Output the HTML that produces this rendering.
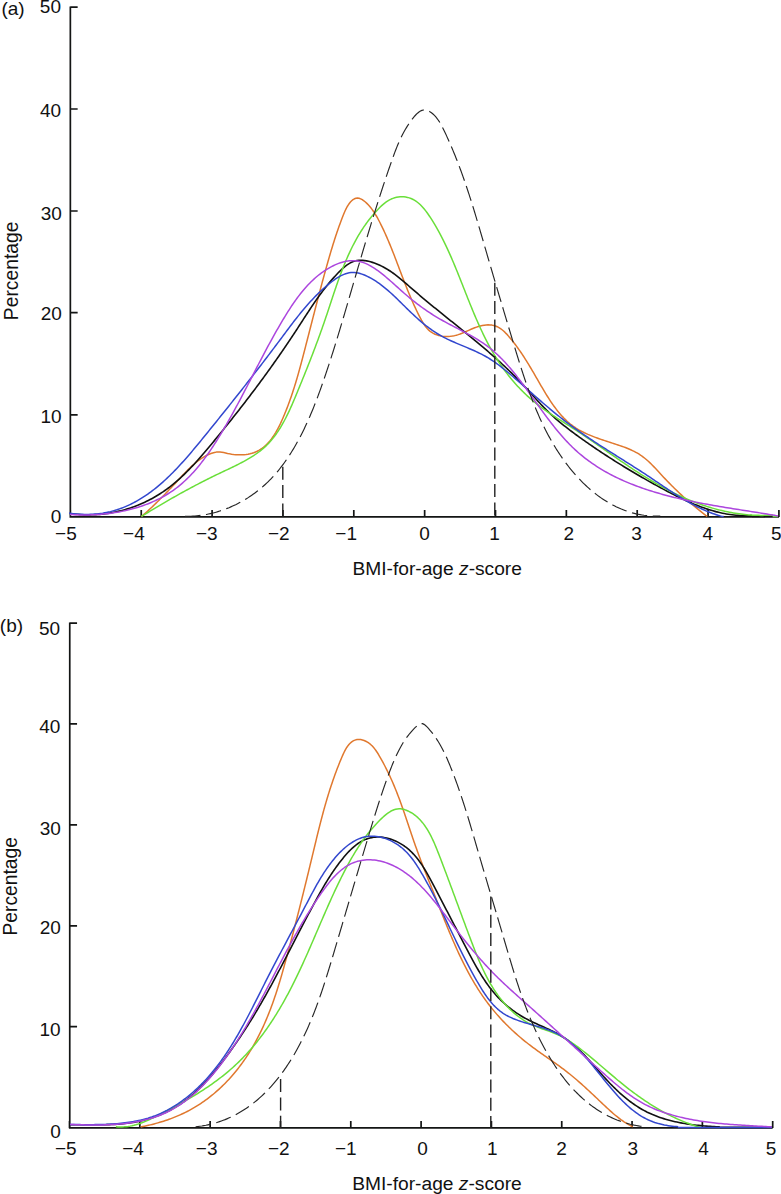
<!DOCTYPE html>
<html><head><meta charset="utf-8"><style>
html,body{margin:0;padding:0;background:#fff;width:781px;height:1194px;overflow:hidden}
svg{display:block}
text{font-family:"Liberation Sans",sans-serif;font-size:19px;fill:#111}
</style></head><body>
<svg width="781" height="1194" viewBox="0 0 781 1194">
<text x="1.4" y="15.2">(a)</text>
<g><text x="55.1" y="540">−5</text><text x="123.1" y="540">−4</text><text x="196.0" y="540">−3</text><text x="267.9" y="540">−2</text><text x="335.3" y="540">−1</text><text x="419.35" y="540">0</text><text x="489.3" y="540">1</text><text x="563.5" y="540">2</text><text x="631.25" y="540">3</text><text x="702.6" y="540">4</text><text x="770.95" y="540">5</text></g>
<g text-anchor="end"><text x="61.0" y="13.2">50</text><text x="61.2" y="116.5">40</text><text x="61.9" y="219.8">30</text><text x="61.9" y="320.2">20</text><text x="61.7" y="422.8">10</text><text x="61.4" y="523.3">0</text></g>
<text transform="translate(17.7,320.2) rotate(-90)" style="font-size:19.3px">Percentage</text>
<text x="352.4" y="575.4" style="font-size:19.2px">BMI-for-age <tspan font-style="italic">z</tspan>-score</text>
<path d="M70.35,6.45V516.9H779.0M70.35,7.2h7.3M70.35,109.0h7.3M70.35,211.0h7.3M70.35,312.7h7.3M70.35,414.8h7.3M70.40,516.9v-7.0M141.25,516.9v-7.0M212.10,516.9v-7.0M282.95,516.9v-7.0M353.80,516.9v-7.0M424.65,516.9v-7.0M495.50,516.9v-7.0M566.35,516.9v-7.0M637.20,516.9v-7.0M708.05,516.9v-7.0M778.90,516.9v-7.0" fill="none" stroke="#131514" stroke-width="1.7"/>
<path d="M141.52,516.40 L143.04,515.15 L144.54,513.84 L146.03,512.52 L147.50,511.20 L148.95,509.87 L150.39,508.54 L151.82,507.20 L153.24,505.86 L154.64,504.51 L156.03,503.16 L157.42,501.80 L158.79,500.44 L160.16,499.07 L161.52,497.70 L162.88,496.32 L164.23,494.93 L165.57,493.54 L166.92,492.14 L168.26,490.74 L169.59,489.33 L170.93,487.91 L172.27,486.49 L173.61,485.06 L174.95,483.63 L176.29,482.19 L177.64,480.74 L178.99,479.28 L180.35,477.82 L181.71,476.35 L183.09,474.89 L184.47,473.42 L185.87,471.97 L187.27,470.53 L188.69,469.11 L190.13,467.71 L191.58,466.34 L193.06,465.00 L194.55,463.69 L196.06,462.42 L197.60,461.20 L199.16,460.02 L200.74,458.90 L202.36,457.83 L204.00,456.83 L205.67,455.89 L207.38,455.02 L209.11,454.22 L210.88,453.52 L212.67,452.92 L214.49,452.44 L216.32,452.12 L218.17,451.96 L220.02,451.99 L221.87,452.21 L223.74,452.57 L225.64,453.01 L227.58,453.46 L229.56,453.86 L231.58,454.20 L233.63,454.47 L235.71,454.67 L237.79,454.80 L239.88,454.85 L241.96,454.82 L244.02,454.70 L246.06,454.49 L248.05,454.20 L250.00,453.80 L251.90,453.31 L253.72,452.72 L255.49,452.03 L257.19,451.25 L258.84,450.37 L260.42,449.41 L261.96,448.37 L263.43,447.25 L264.86,446.06 L266.23,444.79 L267.56,443.46 L268.84,442.07 L270.07,440.62 L271.27,439.11 L272.42,437.55 L273.53,435.95 L274.60,434.30 L275.64,432.61 L276.64,430.89 L277.62,429.14 L278.56,427.36 L279.47,425.56 L280.36,423.73 L281.22,421.89 L282.06,420.04 L282.88,418.18 L283.67,416.32 L284.46,414.46 L285.22,412.59 L285.97,410.73 L286.70,408.87 L287.42,407.02 L288.12,405.16 L288.81,403.30 L289.49,401.45 L290.15,399.60 L290.81,397.74 L291.44,395.89 L292.07,394.04 L292.69,392.18 L293.29,390.33 L293.89,388.48 L294.47,386.62 L295.05,384.77 L295.62,382.91 L296.18,381.06 L296.73,379.20 L297.27,377.34 L297.81,375.48 L298.34,373.62 L298.86,371.76 L299.38,369.90 L299.89,368.03 L300.40,366.16 L300.91,364.29 L301.41,362.42 L301.91,360.54 L302.41,358.66 L302.90,356.78 L303.39,354.90 L303.88,353.01 L304.37,351.12 L304.86,349.23 L305.35,347.33 L305.84,345.43 L306.33,343.53 L306.82,341.62 L307.31,339.72 L307.80,337.80 L308.30,335.89 L308.79,333.97 L309.28,332.06 L309.77,330.14 L310.26,328.22 L310.76,326.30 L311.25,324.37 L311.74,322.45 L312.24,320.52 L312.73,318.60 L313.23,316.67 L313.72,314.75 L314.22,312.82 L314.72,310.90 L315.21,308.97 L315.71,307.05 L316.21,305.12 L316.71,303.20 L317.21,301.28 L317.71,299.36 L318.22,297.44 L318.72,295.53 L319.23,293.61 L319.73,291.70 L320.24,289.79 L320.75,287.88 L321.25,285.98 L321.76,284.08 L322.27,282.18 L322.79,280.29 L323.30,278.40 L323.81,276.51 L324.33,274.63 L324.85,272.75 L325.37,270.88 L325.89,269.01 L326.41,267.14 L326.93,265.28 L327.45,263.43 L327.98,261.58 L328.51,259.73 L329.04,257.90 L329.57,256.06 L330.10,254.23 L330.64,252.40 L331.18,250.58 L331.73,248.75 L332.29,246.92 L332.85,245.09 L333.42,243.25 L334.00,241.41 L334.59,239.57 L335.19,237.71 L335.80,235.85 L336.43,233.97 L337.07,232.09 L337.72,230.19 L338.38,228.28 L339.06,226.35 L339.76,224.40 L340.48,222.44 L341.21,220.46 L341.96,218.46 L342.74,216.44 L343.54,214.43 L344.37,212.43 L345.24,210.47 L346.16,208.58 L347.13,206.76 L348.16,205.06 L349.26,203.47 L350.43,202.03 L351.68,200.76 L353.01,199.68 L354.43,198.81 L355.93,198.24 L357.48,198.06 L359.07,198.28 L360.67,198.84 L362.27,199.70 L363.84,200.78 L365.37,202.02 L366.84,203.37 L368.23,204.79 L369.57,206.26 L370.83,207.78 L372.04,209.35 L373.20,210.96 L374.30,212.61 L375.36,214.29 L376.38,216.00 L377.37,217.74 L378.32,219.49 L379.25,221.26 L380.16,223.03 L381.05,224.81 L381.93,226.60 L382.79,228.39 L383.63,230.19 L384.46,231.98 L385.28,233.79 L386.09,235.59 L386.88,237.40 L387.66,239.21 L388.44,241.02 L389.20,242.84 L389.95,244.66 L390.70,246.48 L391.43,248.30 L392.16,250.12 L392.88,251.95 L393.60,253.77 L394.31,255.60 L395.02,257.43 L395.72,259.25 L396.42,261.08 L397.11,262.91 L397.80,264.74 L398.50,266.57 L399.19,268.40 L399.88,270.22 L400.57,272.05 L401.26,273.87 L401.95,275.70 L402.65,277.52 L403.34,279.34 L404.05,281.15 L404.75,282.97 L405.46,284.78 L406.18,286.59 L406.90,288.40 L407.63,290.21 L408.37,292.01 L409.11,293.81 L409.87,295.60 L410.63,297.40 L411.40,299.20 L412.19,300.99 L412.98,302.78 L413.79,304.58 L414.61,306.37 L415.45,308.17 L416.30,309.97 L417.16,311.76 L418.05,313.56 L418.94,315.37 L419.86,317.17 L420.80,318.96 L421.77,320.74 L422.79,322.47 L423.85,324.16 L424.97,325.78 L426.15,327.32 L427.41,328.78 L428.75,330.12 L430.18,331.34 L431.71,332.44 L433.34,333.39 L435.05,334.21 L436.83,334.90 L438.68,335.45 L440.58,335.89 L442.52,336.20 L444.49,336.39 L446.48,336.46 L448.49,336.42 L450.49,336.26 L452.48,336.00 L454.45,335.64 L456.38,335.17 L458.28,334.61 L460.15,333.97 L462.00,333.26 L463.82,332.51 L465.64,331.72 L467.44,330.91 L469.25,330.10 L471.05,329.29 L472.87,328.51 L474.70,327.78 L476.55,327.09 L478.43,326.47 L480.34,325.94 L482.27,325.51 L484.21,325.17 L486.16,324.96 L488.09,324.87 L490.00,324.92 L491.88,325.12 L493.72,325.48 L495.51,326.00 L497.24,326.71 L498.91,327.59 L500.52,328.62 L502.08,329.77 L503.59,331.05 L505.05,332.42 L506.47,333.86 L507.85,335.37 L509.19,336.91 L510.50,338.47 L511.78,340.05 L513.04,341.62 L514.27,343.20 L515.47,344.79 L516.66,346.38 L517.81,347.98 L518.95,349.58 L520.07,351.18 L521.17,352.79 L522.25,354.41 L523.32,356.03 L524.37,357.65 L525.41,359.28 L526.44,360.92 L527.46,362.55 L528.46,364.20 L529.46,365.85 L530.45,367.50 L531.43,369.16 L532.41,370.82 L533.39,372.49 L534.36,374.16 L535.33,375.84 L536.31,377.53 L537.28,379.21 L538.26,380.91 L539.24,382.60 L540.22,384.31 L541.21,386.01 L542.21,387.72 L543.22,389.43 L544.24,391.15 L545.27,392.86 L546.31,394.56 L547.36,396.26 L548.43,397.95 L549.51,399.63 L550.61,401.30 L551.73,402.96 L552.86,404.59 L554.01,406.21 L555.19,407.81 L556.38,409.39 L557.60,410.95 L558.84,412.47 L560.11,413.97 L561.40,415.44 L562.72,416.88 L564.06,418.28 L565.44,419.65 L566.84,420.98 L568.28,422.27 L569.75,423.52 L571.25,424.72 L572.78,425.88 L574.36,426.99 L575.96,428.06 L577.60,429.08 L579.26,430.06 L580.96,431.00 L582.68,431.90 L584.43,432.77 L586.20,433.60 L587.99,434.41 L589.80,435.18 L591.63,435.93 L593.47,436.66 L595.32,437.36 L597.19,438.05 L599.07,438.71 L600.96,439.37 L602.85,440.01 L604.74,440.64 L606.64,441.26 L608.54,441.88 L610.44,442.49 L612.33,443.11 L614.22,443.72 L616.10,444.34 L617.97,444.96 L619.84,445.59 L621.69,446.23 L623.52,446.89 L625.35,447.56 L627.15,448.27 L628.93,449.00 L630.70,449.76 L632.44,450.56 L634.16,451.40 L635.85,452.29 L637.51,453.22 L639.15,454.21 L640.75,455.26 L642.32,456.36 L643.86,457.53 L645.38,458.74 L646.87,460.01 L648.33,461.31 L649.77,462.66 L651.20,464.04 L652.61,465.45 L654.00,466.88 L655.38,468.33 L656.76,469.79 L658.12,471.27 L659.48,472.75 L660.84,474.22 L662.20,475.70 L663.55,477.16 L664.92,478.61 L666.28,480.05 L667.65,481.48 L669.03,482.89 L670.41,484.30 L671.79,485.69 L673.18,487.07 L674.57,488.44 L675.97,489.80 L677.38,491.15 L678.79,492.49 L680.21,493.83 L681.64,495.15 L683.08,496.46 L684.52,497.77 L685.97,499.07 L687.43,500.35 L688.89,501.64 L690.37,502.91 L691.86,504.18 L693.35,505.44 L694.85,506.69 L696.37,507.94 L697.89,509.18 L699.43,510.42 L700.98,511.65 L702.54,512.87 L704.11,514.09 L705.69,515.31 L707.28,516.40" fill="none" stroke="#E0782E" stroke-width="1.5" stroke-linejoin="round"/>
<path d="M69.85,513.72 L71.86,513.97 L73.87,514.19 L75.88,514.38 L77.89,514.54 L79.90,514.67 L81.90,514.77 L83.90,514.84 L85.90,514.88 L87.90,514.89 L89.89,514.87 L91.88,514.82 L93.86,514.74 L95.84,514.64 L97.81,514.50 L99.78,514.34 L101.75,514.15 L103.71,513.92 L105.66,513.68 L107.61,513.40 L109.55,513.09 L111.48,512.76 L113.41,512.40 L115.33,512.01 L117.24,511.59 L119.15,511.15 L121.04,510.68 L122.93,510.18 L124.81,509.66 L126.68,509.11 L128.54,508.53 L130.39,507.92 L132.23,507.29 L134.06,506.64 L135.88,505.95 L137.69,505.25 L139.48,504.51 L141.27,503.75 L143.04,502.97 L144.81,502.16 L146.56,501.32 L148.29,500.46 L150.02,499.58 L151.73,498.67 L153.43,497.74 L155.11,496.78 L156.78,495.79 L158.43,494.79 L160.07,493.76 L161.70,492.70 L163.31,491.63 L164.90,490.52 L166.48,489.40 L168.04,488.25 L169.59,487.08 L171.12,485.89 L172.64,484.68 L174.14,483.45 L175.63,482.19 L177.10,480.92 L178.57,479.63 L180.02,478.32 L181.45,477.00 L182.88,475.66 L184.29,474.30 L185.69,472.93 L187.09,471.55 L188.47,470.15 L189.84,468.74 L191.20,467.31 L192.55,465.88 L193.90,464.43 L195.24,462.98 L196.56,461.51 L197.88,460.04 L199.20,458.55 L200.51,457.06 L201.81,455.57 L203.10,454.06 L204.39,452.56 L205.68,451.04 L206.96,449.53 L208.23,448.00 L209.50,446.48 L210.77,444.96 L212.04,443.43 L213.30,441.90 L214.56,440.37 L215.82,438.84 L217.07,437.31 L218.33,435.78 L219.58,434.25 L220.82,432.72 L222.07,431.19 L223.31,429.65 L224.55,428.12 L225.79,426.59 L227.03,425.05 L228.26,423.51 L229.49,421.98 L230.72,420.44 L231.94,418.90 L233.16,417.36 L234.38,415.82 L235.60,414.27 L236.81,412.73 L238.03,411.19 L239.24,409.64 L240.44,408.09 L241.65,406.54 L242.85,404.99 L244.05,403.44 L245.24,401.89 L246.44,400.34 L247.63,398.78 L248.82,397.23 L250.00,395.67 L251.19,394.11 L252.37,392.55 L253.54,390.99 L254.72,389.42 L255.89,387.86 L257.06,386.29 L258.23,384.72 L259.39,383.15 L260.56,381.58 L261.72,380.01 L262.87,378.43 L264.03,376.85 L265.18,375.28 L266.33,373.70 L267.47,372.11 L268.62,370.53 L269.76,368.94 L270.89,367.35 L272.03,365.76 L273.16,364.17 L274.29,362.58 L275.42,360.98 L276.54,359.38 L277.67,357.78 L278.78,356.18 L279.90,354.57 L281.01,352.97 L282.12,351.36 L283.23,349.74 L284.34,348.13 L285.44,346.51 L286.54,344.89 L287.64,343.27 L288.73,341.65 L289.82,340.02 L290.91,338.39 L292.00,336.76 L293.08,335.13 L294.16,333.49 L295.24,331.85 L296.31,330.21 L297.38,328.57 L298.45,326.92 L299.52,325.27 L300.59,323.62 L301.65,321.97 L302.72,320.32 L303.79,318.67 L304.86,317.02 L305.93,315.37 L307.00,313.73 L308.08,312.08 L309.16,310.44 L310.25,308.80 L311.34,307.16 L312.44,305.53 L313.54,303.90 L314.65,302.28 L315.77,300.66 L316.90,299.05 L318.04,297.45 L319.19,295.85 L320.34,294.26 L321.51,292.68 L322.69,291.10 L323.88,289.54 L325.09,287.98 L326.31,286.43 L327.54,284.90 L328.79,283.37 L330.05,281.86 L331.33,280.35 L332.62,278.86 L333.94,277.39 L335.27,275.92 L336.62,274.47 L337.99,273.03 L339.37,271.61 L340.79,270.22 L342.22,268.86 L343.69,267.55 L345.19,266.32 L346.72,265.16 L348.30,264.09 L349.91,263.13 L351.57,262.29 L353.28,261.58 L355.05,261.02 L356.86,260.62 L358.74,260.39 L360.66,260.32 L362.61,260.39 L364.58,260.58 L366.56,260.89 L368.53,261.31 L370.49,261.81 L372.43,262.38 L374.33,263.01 L376.19,263.70 L378.02,264.45 L379.82,265.26 L381.59,266.11 L383.33,267.01 L385.05,267.95 L386.74,268.94 L388.40,269.97 L390.04,271.04 L391.67,272.14 L393.27,273.27 L394.85,274.43 L396.42,275.62 L397.97,276.83 L399.51,278.06 L401.04,279.31 L402.56,280.57 L404.07,281.85 L405.57,283.14 L407.07,284.43 L408.56,285.73 L410.05,287.03 L411.54,288.33 L413.03,289.63 L414.52,290.92 L416.01,292.20 L417.50,293.48 L419.00,294.76 L420.50,296.02 L421.99,297.29 L423.49,298.55 L425.00,299.80 L426.50,301.05 L428.01,302.30 L429.51,303.54 L431.02,304.78 L432.53,306.02 L434.04,307.26 L435.56,308.49 L437.07,309.72 L438.59,310.95 L440.10,312.18 L441.62,313.40 L443.14,314.63 L444.66,315.86 L446.18,317.08 L447.70,318.31 L449.23,319.53 L450.75,320.76 L452.28,321.99 L453.80,323.21 L455.33,324.44 L456.86,325.67 L458.38,326.90 L459.91,328.14 L461.43,329.37 L462.96,330.61 L464.48,331.84 L466.01,333.08 L467.53,334.32 L469.05,335.57 L470.57,336.81 L472.09,338.06 L473.60,339.31 L475.12,340.56 L476.63,341.82 L478.14,343.08 L479.64,344.34 L481.15,345.61 L482.65,346.88 L484.15,348.15 L485.64,349.43 L487.13,350.71 L488.62,351.99 L490.10,353.28 L491.58,354.57 L493.05,355.87 L494.52,357.17 L495.98,358.47 L497.44,359.79 L498.90,361.10 L500.35,362.42 L501.79,363.75 L503.23,365.08 L504.66,366.41 L506.09,367.76 L507.51,369.10 L508.92,370.46 L510.33,371.82 L511.73,373.18 L513.12,374.56 L514.51,375.93 L515.89,377.32 L517.26,378.71 L518.62,380.11 L519.97,381.52 L521.32,382.93 L522.66,384.35 L523.99,385.77 L525.31,387.21 L526.63,388.65 L527.94,390.09 L529.25,391.53 L530.56,392.98 L531.86,394.43 L533.17,395.87 L534.47,397.32 L535.78,398.76 L537.09,400.20 L538.41,401.63 L539.73,403.06 L541.06,404.48 L542.39,405.89 L543.74,407.29 L545.10,408.68 L546.47,410.06 L547.85,411.42 L549.25,412.77 L550.66,414.11 L552.08,415.43 L553.52,416.74 L554.98,418.03 L556.44,419.31 L557.92,420.58 L559.41,421.83 L560.91,423.08 L562.43,424.31 L563.95,425.53 L565.48,426.74 L567.02,427.95 L568.57,429.14 L570.12,430.32 L571.69,431.50 L573.26,432.67 L574.83,433.83 L576.41,434.99 L578.00,436.14 L579.59,437.28 L581.18,438.42 L582.78,439.56 L584.37,440.69 L585.98,441.81 L587.58,442.93 L589.19,444.05 L590.80,445.16 L592.42,446.27 L594.03,447.37 L595.65,448.47 L597.28,449.56 L598.90,450.65 L600.53,451.73 L602.17,452.81 L603.80,453.89 L605.44,454.96 L607.08,456.03 L608.73,457.09 L610.37,458.15 L612.02,459.20 L613.68,460.25 L615.33,461.30 L616.99,462.34 L618.65,463.37 L620.32,464.41 L621.99,465.43 L623.66,466.46 L625.33,467.48 L627.01,468.49 L628.69,469.51 L630.37,470.51 L632.05,471.52 L633.74,472.52 L635.43,473.51 L637.12,474.50 L638.82,475.49 L640.51,476.47 L642.22,477.45 L643.92,478.43 L645.63,479.40 L647.33,480.37 L649.05,481.33 L650.76,482.29 L652.48,483.25 L654.20,484.20 L655.92,485.15 L657.64,486.10 L659.37,487.04 L661.10,487.97 L662.83,488.91 L664.57,489.84 L666.30,490.76 L668.04,491.69 L669.79,492.60 L671.53,493.51 L673.28,494.41 L675.04,495.30 L676.79,496.19 L678.56,497.06 L680.32,497.93 L682.09,498.78 L683.86,499.62 L685.64,500.45 L687.43,501.26 L689.21,502.07 L691.01,502.85 L692.80,503.62 L694.61,504.38 L696.42,505.11 L698.23,505.83 L700.05,506.53 L701.88,507.21 L703.72,507.87 L705.56,508.51 L707.40,509.13 L709.26,509.72 L711.12,510.29 L712.99,510.84 L714.86,511.36 L716.74,511.86 L718.63,512.33 L720.53,512.77 L722.44,513.19 L724.35,513.57 L726.28,513.93 L728.21,514.26 L730.15,514.55 L732.10,514.82 L734.06,515.05 L736.03,515.25 L738.00,515.41 L739.99,515.54 L741.99,515.63 L743.99,515.69 L746.01,515.71 L748.04,515.69 L750.08,515.64 L752.12,515.54M751.90,516.40H765.00" fill="none" stroke="#111111" stroke-width="1.6" stroke-linejoin="round"/>
<path d="M141.35,516.40 L143.09,515.41 L144.82,514.35 L146.55,513.29 L148.27,512.24 L149.99,511.20 L151.70,510.16 L153.42,509.13 L155.12,508.10 L156.83,507.08 L158.53,506.07 L160.23,505.07 L161.93,504.07 L163.62,503.07 L165.32,502.09 L167.01,501.10 L168.70,500.13 L170.39,499.16 L172.08,498.19 L173.77,497.23 L175.46,496.28 L177.15,495.33 L178.84,494.38 L180.53,493.44 L182.22,492.51 L183.92,491.58 L185.61,490.65 L187.31,489.73 L189.01,488.82 L190.71,487.90 L192.41,487.00 L194.12,486.09 L195.83,485.19 L197.54,484.30 L199.26,483.41 L200.98,482.52 L202.70,481.63 L204.43,480.75 L206.17,479.87 L207.91,479.00 L209.65,478.13 L211.40,477.26 L213.16,476.40 L214.92,475.54 L216.69,474.68 L218.47,473.82 L220.25,472.97 L222.04,472.12 L223.84,471.27 L225.64,470.42 L227.44,469.56 L229.24,468.71 L231.04,467.85 L232.84,466.98 L234.64,466.11 L236.43,465.23 L238.21,464.34 L239.99,463.43 L241.75,462.51 L243.50,461.58 L245.24,460.63 L246.96,459.66 L248.66,458.67 L250.35,457.67 L252.01,456.64 L253.65,455.58 L255.27,454.50 L256.86,453.40 L258.43,452.26 L259.97,451.10 L261.47,449.90 L262.95,448.67 L264.39,447.41 L265.79,446.11 L267.16,444.78 L268.49,443.41 L269.79,442.01 L271.06,440.57 L272.29,439.10 L273.50,437.60 L274.67,436.08 L275.81,434.52 L276.93,432.94 L278.02,431.34 L279.08,429.71 L280.12,428.06 L281.13,426.38 L282.12,424.69 L283.09,422.97 L284.04,421.24 L284.97,419.50 L285.88,417.73 L286.78,415.96 L287.66,414.17 L288.52,412.37 L289.37,410.56 L290.20,408.74 L291.02,406.91 L291.83,405.08 L292.64,403.24 L293.43,401.39 L294.21,399.55 L294.99,397.70 L295.76,395.85 L296.53,394.01 L297.29,392.16 L298.05,390.32 L298.81,388.49 L299.56,386.65 L300.31,384.82 L301.06,382.99 L301.81,381.16 L302.55,379.34 L303.29,377.52 L304.03,375.70 L304.76,373.88 L305.49,372.06 L306.22,370.24 L306.94,368.43 L307.66,366.61 L308.38,364.80 L309.10,362.99 L309.81,361.18 L310.52,359.37 L311.22,357.55 L311.92,355.74 L312.62,353.93 L313.32,352.12 L314.01,350.31 L314.70,348.49 L315.38,346.68 L316.06,344.86 L316.74,343.05 L317.42,341.23 L318.09,339.41 L318.76,337.58 L319.42,335.76 L320.08,333.93 L320.74,332.10 L321.39,330.27 L322.05,328.44 L322.69,326.60 L323.33,324.76 L323.97,322.92 L324.61,321.07 L325.24,319.22 L325.87,317.36 L326.50,315.50 L327.12,313.64 L327.74,311.78 L328.36,309.91 L328.98,308.04 L329.59,306.17 L330.21,304.30 L330.83,302.43 L331.45,300.55 L332.07,298.68 L332.69,296.80 L333.31,294.93 L333.94,293.06 L334.57,291.18 L335.21,289.31 L335.85,287.44 L336.49,285.57 L337.14,283.70 L337.80,281.84 L338.46,279.98 L339.13,278.12 L339.81,276.26 L340.49,274.41 L341.19,272.56 L341.89,270.72 L342.60,268.88 L343.32,267.04 L344.06,265.21 L344.80,263.39 L345.55,261.57 L346.32,259.76 L347.10,257.96 L347.89,256.16 L348.70,254.37 L349.52,252.59 L350.36,250.81 L351.21,249.04 L352.07,247.28 L352.95,245.53 L353.85,243.79 L354.77,242.06 L355.70,240.34 L356.65,238.63 L357.62,236.93 L358.61,235.24 L359.61,233.56 L360.64,231.89 L361.69,230.23 L362.76,228.59 L363.85,226.95 L364.97,225.33 L366.10,223.73 L367.26,222.13 L368.44,220.55 L369.65,218.99 L370.88,217.44 L372.14,215.90 L373.42,214.38 L374.73,212.87 L376.06,211.38 L377.42,209.90 L378.81,208.45 L380.23,207.03 L381.69,205.65 L383.18,204.34 L384.70,203.09 L386.27,201.93 L387.87,200.86 L389.52,199.90 L391.21,199.06 L392.95,198.35 L394.73,197.77 L396.53,197.32 L398.36,197.00 L400.20,196.82 L402.04,196.76 L403.87,196.84 L405.70,197.05 L407.50,197.39 L409.27,197.87 L411.00,198.49 L412.69,199.24 L414.33,200.12 L415.91,201.13 L417.44,202.26 L418.93,203.49 L420.37,204.82 L421.77,206.23 L423.12,207.72 L424.44,209.28 L425.71,210.89 L426.95,212.55 L428.16,214.24 L429.34,215.97 L430.49,217.71 L431.61,219.45 L432.70,221.20 L433.77,222.94 L434.82,224.68 L435.84,226.42 L436.84,228.16 L437.82,229.89 L438.79,231.63 L439.73,233.36 L440.65,235.10 L441.56,236.84 L442.45,238.58 L443.33,240.32 L444.19,242.06 L445.04,243.81 L445.88,245.56 L446.71,247.31 L447.52,249.07 L448.33,250.83 L449.12,252.59 L449.91,254.36 L450.69,256.14 L451.47,257.92 L452.24,259.71 L453.00,261.50 L453.76,263.30 L454.51,265.10 L455.26,266.90 L456.00,268.71 L456.74,270.52 L457.48,272.34 L458.21,274.15 L458.94,275.97 L459.67,277.80 L460.40,279.62 L461.12,281.45 L461.84,283.27 L462.56,285.10 L463.29,286.93 L464.01,288.76 L464.73,290.60 L465.45,292.43 L466.18,294.26 L466.90,296.09 L467.63,297.92 L468.36,299.75 L469.09,301.58 L469.83,303.41 L470.57,305.24 L471.31,307.06 L472.06,308.89 L472.81,310.71 L473.56,312.53 L474.33,314.34 L475.09,316.16 L475.87,317.96 L476.65,319.77 L477.44,321.57 L478.23,323.37 L479.04,325.17 L479.85,326.95 L480.67,328.74 L481.50,330.52 L482.34,332.29 L483.18,334.06 L484.04,335.82 L484.91,337.58 L485.79,339.33 L486.68,341.07 L487.59,342.81 L488.50,344.54 L489.43,346.26 L490.37,347.98 L491.32,349.69 L492.29,351.38 L493.27,353.07 L494.27,354.76 L495.28,356.43 L496.31,358.09 L497.35,359.75 L498.41,361.39 L499.48,363.03 L500.57,364.65 L501.68,366.27 L502.80,367.87 L503.95,369.46 L505.11,371.04 L506.28,372.61 L507.47,374.17 L508.68,375.71 L509.91,377.24 L511.15,378.76 L512.40,380.27 L513.68,381.76 L514.97,383.23 L516.27,384.70 L517.59,386.14 L518.93,387.58 L520.28,388.99 L521.65,390.39 L523.04,391.78 L524.44,393.15 L525.85,394.50 L527.28,395.83 L528.73,397.15 L530.19,398.45 L531.66,399.73 L533.15,400.99 L534.65,402.23 L536.17,403.46 L537.71,404.66 L539.25,405.85 L540.81,407.02 L542.38,408.17 L543.97,409.31 L545.56,410.44 L547.16,411.55 L548.78,412.66 L550.39,413.75 L552.02,414.83 L553.66,415.90 L555.29,416.97 L556.94,418.03 L558.59,419.09 L560.24,420.15 L561.89,421.20 L563.55,422.25 L565.20,423.30 L566.86,424.35 L568.52,425.40 L570.17,426.45 L571.82,427.51 L573.47,428.57 L575.12,429.64 L576.76,430.72 L578.40,431.80 L580.04,432.89 L581.67,433.98 L583.31,435.07 L584.93,436.17 L586.56,437.27 L588.19,438.38 L589.81,439.49 L591.43,440.60 L593.05,441.72 L594.67,442.83 L596.28,443.95 L597.90,445.07 L599.51,446.20 L601.13,447.32 L602.74,448.44 L604.35,449.57 L605.97,450.69 L607.58,451.82 L609.19,452.94 L610.81,454.06 L612.42,455.19 L614.03,456.31 L615.65,457.42 L617.27,458.54 L618.89,459.66 L620.50,460.77 L622.13,461.88 L623.75,462.98 L625.37,464.09 L627.00,465.18 L628.63,466.28 L630.26,467.37 L631.90,468.45 L633.54,469.53 L635.18,470.61 L636.82,471.68 L638.47,472.74 L640.12,473.80 L641.77,474.85 L643.43,475.89 L645.10,476.93 L646.76,477.96 L648.43,478.98 L650.11,479.99 L651.79,480.99 L653.48,481.99 L655.17,482.98 L656.87,483.95 L658.57,484.92 L660.28,485.88 L661.99,486.83 L663.71,487.76 L665.44,488.69 L667.17,489.61 L668.91,490.51 L670.65,491.40 L672.40,492.28 L674.16,493.15 L675.92,494.01 L677.69,494.85 L679.47,495.68 L681.25,496.49 L683.03,497.30 L684.82,498.09 L686.62,498.86 L688.43,499.62 L690.23,500.37 L692.05,501.10 L693.87,501.82 L695.69,502.52 L697.53,503.21 L699.36,503.88 L701.20,504.53 L703.05,505.17 L704.90,505.79 L706.76,506.40 L708.63,506.98 L710.49,507.55 L712.37,508.10 L714.25,508.64 L716.13,509.15 L718.02,509.65 L719.91,510.13 L721.81,510.59 L723.72,511.03 L725.63,511.45 L727.54,511.85 L729.46,512.23 L731.38,512.59 L733.31,512.93 L735.24,513.25 L737.18,513.55 L739.12,513.83 L741.07,514.08 L743.02,514.32 L744.98,514.53 L746.94,514.72 L748.90,514.88 L750.87,515.02 L752.85,515.14 L754.83,515.24 L756.81,515.31 L758.80,515.36 L760.79,515.39 L762.78,515.39 L764.78,515.36 L766.79,515.31 L768.79,515.24 L770.81,515.13 L772.82,515.01M772.60,516.40H778.00" fill="none" stroke="#6ADF3A" stroke-width="1.5" stroke-linejoin="round"/>
<path d="M69.09,513.04 L71.35,513.37 L73.58,513.66 L75.79,513.90 L77.98,514.09 L80.15,514.24 L82.29,514.35 L84.42,514.42 L86.53,514.44 L88.62,514.42 L90.68,514.36 L92.73,514.26 L94.76,514.12 L96.77,513.94 L98.76,513.72 L100.73,513.46 L102.69,513.17 L104.63,512.83 L106.54,512.46 L108.44,512.06 L110.33,511.62 L112.19,511.14 L114.04,510.63 L115.88,510.09 L117.69,509.51 L119.49,508.90 L121.28,508.25 L123.04,507.58 L124.80,506.87 L126.53,506.14 L128.26,505.37 L129.96,504.57 L131.66,503.75 L133.34,502.90 L135.00,502.02 L136.65,501.11 L138.29,500.18 L139.91,499.22 L141.52,498.23 L143.12,497.22 L144.70,496.19 L146.27,495.13 L147.83,494.05 L149.38,492.94 L150.92,491.82 L152.44,490.67 L153.95,489.50 L155.46,488.31 L156.95,487.10 L158.43,485.88 L159.90,484.63 L161.36,483.37 L162.81,482.09 L164.25,480.79 L165.68,479.47 L167.10,478.14 L168.51,476.80 L169.91,475.44 L171.31,474.06 L172.69,472.67 L174.07,471.27 L175.44,469.86 L176.80,468.43 L178.16,467.00 L179.51,465.55 L180.85,464.09 L182.18,462.63 L183.51,461.15 L184.83,459.67 L186.15,458.18 L187.46,456.68 L188.76,455.17 L190.06,453.66 L191.35,452.14 L192.64,450.62 L193.93,449.09 L195.21,447.56 L196.48,446.03 L197.75,444.49 L199.02,442.95 L200.29,441.41 L201.55,439.87 L202.81,438.33 L204.06,436.78 L205.31,435.24 L206.56,433.70 L207.81,432.16 L209.06,430.63 L210.30,429.09 L211.55,427.55 L212.79,426.02 L214.02,424.49 L215.26,422.96 L216.49,421.43 L217.73,419.90 L218.96,418.37 L220.18,416.84 L221.41,415.32 L222.64,413.79 L223.86,412.27 L225.08,410.74 L226.30,409.22 L227.52,407.69 L228.73,406.17 L229.95,404.65 L231.16,403.12 L232.37,401.60 L233.58,400.08 L234.79,398.56 L236.00,397.03 L237.21,395.51 L238.41,393.99 L239.61,392.46 L240.81,390.94 L242.01,389.42 L243.21,387.89 L244.41,386.37 L245.61,384.84 L246.80,383.31 L248.00,381.79 L249.19,380.26 L250.39,378.73 L251.58,377.20 L252.77,375.67 L253.96,374.14 L255.15,372.60 L256.33,371.07 L257.52,369.53 L258.71,368.00 L259.89,366.46 L261.07,364.92 L262.26,363.38 L263.44,361.83 L264.62,360.29 L265.80,358.74 L266.99,357.19 L268.17,355.64 L269.35,354.09 L270.53,352.53 L271.70,350.98 L272.88,349.42 L274.06,347.85 L275.24,346.29 L276.41,344.72 L277.59,343.16 L278.77,341.58 L279.94,340.01 L281.12,338.43 L282.30,336.85 L283.47,335.27 L284.65,333.69 L285.83,332.11 L287.02,330.53 L288.20,328.95 L289.39,327.37 L290.58,325.79 L291.78,324.22 L292.98,322.65 L294.19,321.08 L295.40,319.52 L296.63,317.96 L297.85,316.41 L299.09,314.87 L300.33,313.33 L301.58,311.80 L302.84,310.28 L304.12,308.76 L305.40,307.26 L306.69,305.76 L307.99,304.28 L309.31,302.81 L310.63,301.34 L311.97,299.90 L313.33,298.46 L314.69,297.04 L316.07,295.63 L317.47,294.24 L318.88,292.86 L320.31,291.50 L321.76,290.15 L323.22,288.82 L324.70,287.51 L326.19,286.22 L327.71,284.95 L329.24,283.70 L330.80,282.46 L332.37,281.25 L333.97,280.08 L335.58,278.95 L337.21,277.87 L338.86,276.86 L340.54,275.92 L342.23,275.08 L343.94,274.33 L345.66,273.69 L347.41,273.17 L349.18,272.78 L350.96,272.53 L352.76,272.43 L354.58,272.50 L356.41,272.71 L358.24,273.06 L360.08,273.53 L361.92,274.11 L363.74,274.78 L365.55,275.54 L367.34,276.36 L369.10,277.24 L370.84,278.17 L372.54,279.14 L374.23,280.16 L375.89,281.22 L377.53,282.31 L379.14,283.45 L380.74,284.62 L382.31,285.82 L383.87,287.05 L385.41,288.30 L386.94,289.58 L388.45,290.89 L389.95,292.21 L391.43,293.56 L392.90,294.92 L394.36,296.29 L395.82,297.67 L397.26,299.06 L398.70,300.46 L400.13,301.86 L401.56,303.27 L402.98,304.67 L404.40,306.07 L405.82,307.47 L407.24,308.85 L408.66,310.23 L410.08,311.60 L411.50,312.96 L412.93,314.31 L414.36,315.65 L415.80,316.97 L417.25,318.28 L418.70,319.57 L420.16,320.85 L421.63,322.11 L423.11,323.35 L424.61,324.57 L426.11,325.77 L427.63,326.94 L429.17,328.10 L430.72,329.23 L432.29,330.34 L433.87,331.42 L435.48,332.48 L437.10,333.50 L438.74,334.50 L440.41,335.47 L442.10,336.41 L443.81,337.31 L445.54,338.20 L447.28,339.06 L449.04,339.90 L450.82,340.72 L452.61,341.52 L454.41,342.31 L456.21,343.09 L458.03,343.87 L459.85,344.63 L461.67,345.39 L463.50,346.15 L465.33,346.91 L467.15,347.67 L468.97,348.44 L470.79,349.22 L472.60,350.01 L474.40,350.81 L476.20,351.62 L477.98,352.46 L479.74,353.31 L481.50,354.19 L483.23,355.09 L484.95,356.02 L486.65,356.98 L488.32,357.97 L489.98,358.99 L491.62,360.04 L493.23,361.12 L494.84,362.22 L496.42,363.34 L498.00,364.49 L499.56,365.65 L501.10,366.84 L502.64,368.04 L504.16,369.25 L505.68,370.49 L507.18,371.73 L508.68,372.99 L510.18,374.25 L511.67,375.52 L513.15,376.80 L514.63,378.09 L516.11,379.37 L517.59,380.66 L519.06,381.96 L520.54,383.25 L522.01,384.55 L523.48,385.85 L524.96,387.15 L526.43,388.45 L527.90,389.75 L529.37,391.05 L530.85,392.35 L532.32,393.65 L533.79,394.95 L535.27,396.25 L536.75,397.54 L538.23,398.84 L539.71,400.13 L541.19,401.42 L542.68,402.70 L544.16,403.98 L545.65,405.26 L547.15,406.53 L548.64,407.80 L550.14,409.07 L551.65,410.33 L553.16,411.58 L554.67,412.82 L556.19,414.06 L557.71,415.30 L559.23,416.52 L560.77,417.74 L562.30,418.95 L563.84,420.16 L565.39,421.35 L566.95,422.53 L568.51,423.71 L570.07,424.88 L571.65,426.04 L573.22,427.19 L574.81,428.33 L576.40,429.47 L577.99,430.60 L579.59,431.72 L581.19,432.84 L582.79,433.95 L584.40,435.05 L586.02,436.15 L587.64,437.24 L589.26,438.33 L590.89,439.41 L592.52,440.49 L594.15,441.57 L595.78,442.64 L597.42,443.70 L599.06,444.76 L600.71,445.82 L602.35,446.88 L604.00,447.93 L605.65,448.99 L607.30,450.03 L608.95,451.08 L610.61,452.13 L612.26,453.17 L613.92,454.22 L615.58,455.26 L617.23,456.30 L618.89,457.34 L620.55,458.39 L622.21,459.43 L623.87,460.47 L625.53,461.52 L627.19,462.56 L628.85,463.61 L630.50,464.66 L632.16,465.71 L633.82,466.76 L635.47,467.82 L637.12,468.88 L638.78,469.94 L640.43,471.00 L642.07,472.07 L643.72,473.15 L645.36,474.22 L647.00,475.30 L648.64,476.39 L650.28,477.48 L651.91,478.58 L653.54,479.67 L655.17,480.77 L656.80,481.87 L658.43,482.97 L660.06,484.07 L661.69,485.17 L663.32,486.27 L664.95,487.36 L666.59,488.45 L668.22,489.54 L669.86,490.62 L671.49,491.69 L673.14,492.76 L674.78,493.82 L676.43,494.87 L678.08,495.91 L679.74,496.94 L681.40,497.95 L683.07,498.96 L684.74,499.95 L686.42,500.93 L688.10,501.90 L689.79,502.85 L691.49,503.78 L693.20,504.70 L694.91,505.60 L696.63,506.48 L698.37,507.34 L700.11,508.18 L701.85,509.00 L703.61,509.80 L705.38,510.57 L707.16,511.32 L708.95,512.05 L710.76,512.75 L712.57,513.43 L714.39,514.07 L716.23,514.69 L718.08,515.29 L719.95,515.85 L721.83,516.38 L723.72,516.40" fill="none" stroke="#3247CE" stroke-width="1.5" stroke-linejoin="round"/>
<path d="M70.00,514.50 L71.91,514.62 L73.82,514.72 L75.74,514.80 L77.67,514.87 L79.60,514.92 L81.55,514.95 L83.49,514.96 L85.45,514.96 L87.41,514.93 L89.37,514.89 L91.34,514.83 L93.31,514.75 L95.28,514.65 L97.25,514.53 L99.23,514.40 L101.21,514.24 L103.19,514.06 L105.17,513.86 L107.15,513.64 L109.12,513.40 L111.10,513.14 L113.07,512.86 L115.04,512.56 L117.01,512.23 L118.97,511.89 L120.93,511.52 L122.88,511.13 L124.83,510.72 L126.77,510.28 L128.71,509.82 L130.64,509.34 L132.56,508.83 L134.47,508.31 L136.37,507.75 L138.27,507.18 L140.15,506.58 L142.03,505.95 L143.89,505.30 L145.74,504.63 L147.58,503.93 L149.40,503.20 L151.21,502.45 L153.01,501.68 L154.80,500.88 L156.57,500.05 L158.32,499.19 L160.06,498.31 L161.78,497.40 L163.48,496.47 L165.17,495.51 L166.84,494.52 L168.49,493.50 L170.12,492.46 L171.72,491.38 L173.31,490.28 L174.88,489.15 L176.43,487.99 L177.95,486.81 L179.46,485.60 L180.95,484.36 L182.41,483.09 L183.86,481.80 L185.28,480.49 L186.69,479.15 L188.08,477.80 L189.45,476.41 L190.81,475.01 L192.15,473.59 L193.47,472.15 L194.77,470.69 L196.06,469.21 L197.33,467.71 L198.59,466.20 L199.83,464.67 L201.06,463.13 L202.27,461.57 L203.47,460.00 L204.66,458.41 L205.83,456.81 L206.99,455.20 L208.13,453.58 L209.27,451.95 L210.39,450.31 L211.50,448.66 L212.61,447.01 L213.70,445.34 L214.78,443.67 L215.85,442.00 L216.91,440.31 L217.96,438.63 L219.00,436.94 L220.04,435.25 L221.06,433.55 L222.08,431.85 L223.09,430.16 L224.09,428.46 L225.09,426.75 L226.08,425.05 L227.06,423.34 L228.04,421.64 L229.01,419.93 L229.98,418.22 L230.93,416.51 L231.89,414.79 L232.84,413.08 L233.78,411.36 L234.72,409.65 L235.65,407.93 L236.58,406.21 L237.51,404.49 L238.43,402.77 L239.35,401.04 L240.27,399.32 L241.18,397.60 L242.09,395.87 L242.99,394.15 L243.90,392.42 L244.80,390.69 L245.70,388.96 L246.60,387.23 L247.50,385.51 L248.39,383.78 L249.29,382.05 L250.18,380.32 L251.08,378.59 L251.97,376.86 L252.86,375.13 L253.76,373.39 L254.65,371.66 L255.55,369.93 L256.44,368.20 L257.34,366.47 L258.24,364.74 L259.14,363.01 L260.04,361.28 L260.94,359.55 L261.85,357.82 L262.76,356.09 L263.67,354.36 L264.58,352.63 L265.50,350.91 L266.42,349.18 L267.35,347.45 L268.28,345.73 L269.21,344.00 L270.15,342.28 L271.09,340.55 L272.04,338.83 L272.99,337.11 L273.95,335.39 L274.91,333.67 L275.88,331.95 L276.86,330.24 L277.84,328.52 L278.83,326.81 L279.82,325.09 L280.83,323.38 L281.84,321.67 L282.85,319.96 L283.88,318.26 L284.91,316.55 L285.95,314.85 L287.01,313.15 L288.07,311.46 L289.14,309.78 L290.23,308.10 L291.32,306.44 L292.43,304.78 L293.56,303.13 L294.70,301.50 L295.85,299.88 L297.02,298.27 L298.20,296.67 L299.41,295.10 L300.63,293.54 L301.86,292.00 L303.12,290.47 L304.40,288.97 L305.70,287.49 L307.02,286.03 L308.36,284.60 L309.72,283.19 L311.11,281.80 L312.52,280.44 L313.95,279.11 L315.41,277.81 L316.89,276.54 L318.41,275.29 L319.94,274.08 L321.51,272.91 L323.11,271.76 L324.73,270.65 L326.38,269.58 L328.06,268.55 L329.77,267.56 L331.51,266.61 L333.26,265.73 L335.03,264.89 L336.82,264.12 L338.63,263.41 L340.45,262.78 L342.28,262.22 L344.11,261.73 L345.96,261.34 L347.80,261.02 L349.65,260.81 L351.49,260.68 L353.34,260.66 L355.17,260.75 L357.00,260.94 L358.82,261.25 L360.63,261.67 L362.42,262.21 L364.21,262.85 L365.97,263.58 L367.72,264.40 L369.46,265.30 L371.18,266.27 L372.89,267.30 L374.57,268.39 L376.24,269.53 L377.90,270.71 L379.53,271.93 L381.14,273.17 L382.74,274.42 L384.32,275.70 L385.88,277.00 L387.42,278.31 L388.96,279.63 L390.48,280.95 L392.00,282.29 L393.50,283.63 L395.00,284.98 L396.49,286.32 L397.97,287.66 L399.46,289.00 L400.94,290.33 L402.42,291.65 L403.91,292.96 L405.39,294.25 L406.88,295.53 L408.38,296.80 L409.88,298.05 L411.38,299.28 L412.89,300.50 L414.41,301.70 L415.93,302.89 L417.46,304.06 L419.00,305.22 L420.55,306.37 L422.11,307.50 L423.68,308.62 L425.25,309.72 L426.84,310.81 L428.44,311.89 L430.05,312.95 L431.67,314.00 L433.30,315.03 L434.95,316.06 L436.61,317.07 L438.28,318.07 L439.97,319.05 L441.67,320.02 L443.39,320.99 L445.12,321.94 L446.86,322.88 L448.61,323.82 L450.36,324.75 L452.13,325.68 L453.89,326.60 L455.67,327.53 L457.44,328.45 L459.21,329.37 L460.98,330.30 L462.75,331.23 L464.51,332.16 L466.27,333.11 L468.02,334.06 L469.76,335.02 L471.50,335.99 L473.22,336.97 L474.92,337.96 L476.61,338.98 L478.29,340.00 L479.95,341.05 L481.59,342.11 L483.20,343.20 L484.80,344.30 L486.37,345.43 L487.91,346.58 L489.44,347.76 L490.93,348.96 L492.41,350.18 L493.86,351.42 L495.30,352.69 L496.71,353.97 L498.10,355.28 L499.48,356.61 L500.84,357.95 L502.18,359.31 L503.50,360.69 L504.81,362.09 L506.11,363.50 L507.39,364.93 L508.66,366.38 L509.92,367.84 L511.16,369.32 L512.40,370.80 L513.63,372.30 L514.84,373.82 L516.05,375.34 L517.26,376.88 L518.46,378.43 L519.65,379.99 L520.84,381.56 L522.02,383.13 L523.20,384.72 L524.38,386.31 L525.55,387.91 L526.72,389.52 L527.89,391.13 L529.06,392.74 L530.23,394.37 L531.40,395.99 L532.57,397.62 L533.74,399.25 L534.91,400.88 L536.08,402.51 L537.25,404.14 L538.42,405.77 L539.60,407.40 L540.78,409.03 L541.96,410.66 L543.14,412.28 L544.34,413.90 L545.53,415.51 L546.73,417.12 L547.94,418.73 L549.15,420.32 L550.36,421.91 L551.59,423.50 L552.82,425.07 L554.06,426.63 L555.31,428.19 L556.56,429.73 L557.83,431.26 L559.10,432.78 L560.38,434.29 L561.67,435.79 L562.98,437.27 L564.29,438.73 L565.62,440.18 L566.96,441.62 L568.31,443.03 L569.67,444.43 L571.04,445.82 L572.43,447.18 L573.84,448.52 L575.25,449.85 L576.68,451.15 L578.13,452.44 L579.59,453.70 L581.07,454.94 L582.56,456.16 L584.06,457.36 L585.58,458.55 L587.11,459.71 L588.65,460.85 L590.21,461.98 L591.78,463.08 L593.36,464.17 L594.95,465.24 L596.56,466.29 L598.18,467.33 L599.81,468.34 L601.45,469.34 L603.11,470.32 L604.77,471.28 L606.45,472.23 L608.13,473.16 L609.83,474.07 L611.54,474.97 L613.25,475.85 L614.98,476.72 L616.72,477.57 L618.47,478.41 L620.22,479.23 L621.99,480.03 L623.76,480.82 L625.54,481.60 L627.34,482.36 L629.14,483.11 L630.94,483.84 L632.76,484.56 L634.58,485.27 L636.41,485.96 L638.25,486.64 L640.10,487.31 L641.95,487.96 L643.81,488.61 L645.67,489.24 L647.54,489.86 L649.42,490.47 L651.30,491.06 L653.19,491.65 L655.09,492.22 L656.98,492.79 L658.89,493.34 L660.80,493.88 L662.71,494.41 L664.63,494.93 L666.55,495.45 L668.48,495.95 L670.41,496.44 L672.34,496.93 L674.28,497.41 L676.22,497.87 L678.16,498.33 L680.11,498.78 L682.05,499.22 L684.00,499.66 L685.96,500.09 L687.91,500.51 L689.87,500.92 L691.82,501.33 L693.78,501.73 L695.74,502.12 L697.70,502.51 L699.66,502.89 L701.63,503.26 L703.59,503.63 L705.55,504.00 L707.51,504.35 L709.47,504.71 L711.43,505.06 L713.39,505.40 L715.35,505.74 L717.31,506.08 L719.27,506.41 L721.22,506.74 L723.17,507.07 L725.13,507.39 L727.07,507.71 L729.02,508.02 L730.96,508.34 L732.90,508.65 L734.84,508.96 L736.78,509.27 L738.71,509.57 L740.63,509.88 L742.56,510.18 L744.48,510.48 L746.39,510.78 L748.30,511.08 L750.21,511.38 L752.11,511.68 L754.00,511.98 L755.89,512.28 L757.78,512.58 L759.66,512.88 L761.53,513.19 L763.40,513.49 L765.26,513.79 L767.11,514.10 L768.96,514.41 L770.80,514.72 L772.63,515.03 L774.46,515.34 L776.28,515.66 L778.09,515.98" fill="none" stroke="#AC46DE" stroke-width="1.5" stroke-linejoin="round"/>
<path d="M282.8,466.8V516.9" stroke="#222" stroke-width="1.4" stroke-dasharray="13 5.3"/>
<path d="M494.8,282.8V516.9" stroke="#222" stroke-width="1.4" stroke-dasharray="13 5.3"/>
<path d="M184.98,516.36 L186.96,516.37 L188.94,516.34 L190.91,516.28 L192.88,516.17 L194.84,516.03 L196.80,515.86 L198.76,515.65 L200.71,515.40 L202.65,515.12 L204.59,514.80 L206.52,514.45 L208.45,514.06 L210.36,513.64 L212.27,513.19 L214.17,512.70 L216.07,512.18 L217.95,511.63 L219.83,511.04 L221.69,510.43 L223.54,509.78 L225.39,509.10 L227.22,508.39 L229.04,507.66 L230.84,506.89 L232.64,506.09 L234.42,505.26 L236.19,504.41 L237.94,503.52 L239.68,502.61 L241.41,501.67 L243.12,500.70 L244.81,499.71 L246.49,498.68 L248.15,497.64 L249.79,496.56 L251.42,495.46 L253.03,494.34 L254.62,493.19 L256.19,492.02 L257.74,490.82 L259.27,489.60 L260.79,488.36 L262.28,487.09 L263.75,485.80 L265.20,484.49 L266.62,483.16 L268.03,481.80 L269.41,480.42 L270.78,479.03 L272.12,477.61 L273.45,476.18 L274.75,474.73 L276.03,473.25 L277.30,471.77 L278.55,470.26 L279.77,468.74 L280.98,467.20 L282.17,465.65 L283.34,464.08 L284.50,462.50 L285.63,460.90 L286.75,459.29 L287.86,457.67 L288.94,456.03 L290.01,454.39 L291.07,452.73 L292.10,451.06 L293.13,449.38 L294.13,447.70 L295.12,446.00 L296.10,444.30 L297.06,442.58 L298.01,440.86 L298.95,439.14 L299.87,437.40 L300.77,435.66 L301.67,433.92 L302.55,432.16 L303.42,430.41 L304.28,428.64 L305.12,426.87 L305.96,425.10 L306.78,423.32 L307.59,421.54 L308.39,419.75 L309.18,417.95 L309.96,416.15 L310.73,414.35 L311.49,412.54 L312.24,410.73 L312.99,408.92 L313.72,407.10 L314.45,405.27 L315.16,403.45 L315.87,401.62 L316.58,399.78 L317.27,397.95 L317.96,396.11 L318.64,394.27 L319.32,392.42 L319.99,390.58 L320.66,388.73 L321.32,386.88 L321.97,385.03 L322.62,383.17 L323.27,381.32 L323.91,379.46 L324.54,377.60 L325.18,375.74 L325.81,373.88 L326.43,372.02 L327.06,370.15 L327.68,368.29 L328.29,366.42 L328.91,364.56 L329.52,362.69 L330.12,360.82 L330.73,358.95 L331.33,357.08 L331.92,355.20 L332.52,353.33 L333.11,351.46 L333.70,349.58 L334.29,347.71 L334.87,345.83 L335.45,343.95 L336.03,342.08 L336.61,340.20 L337.19,338.32 L337.76,336.44 L338.33,334.56 L338.90,332.68 L339.47,330.80 L340.04,328.92 L340.60,327.03 L341.17,325.15 L341.73,323.27 L342.29,321.38 L342.85,319.50 L343.41,317.61 L343.97,315.73 L344.52,313.84 L345.08,311.96 L345.63,310.07 L346.18,308.19 L346.74,306.30 L347.29,304.42 L347.84,302.53 L348.39,300.65 L348.94,298.76 L349.49,296.87 L350.04,294.99 L350.59,293.10 L351.14,291.22 L351.69,289.33 L352.24,287.44 L352.79,285.56 L353.34,283.67 L353.89,281.79 L354.44,279.90 L354.99,278.02 L355.54,276.13 L356.10,274.25 L356.65,272.36 L357.20,270.48 L357.75,268.59 L358.30,266.71 L358.86,264.82 L359.41,262.94 L359.96,261.06 L360.52,259.17 L361.07,257.29 L361.63,255.41 L362.18,253.53 L362.74,251.64 L363.30,249.76 L363.86,247.88 L364.42,246.00 L364.98,244.12 L365.54,242.24 L366.11,240.36 L366.67,238.48 L367.24,236.60 L367.80,234.72 L368.37,232.84 L368.94,230.96 L369.51,229.08 L370.08,227.21 L370.66,225.33 L371.23,223.45 L371.81,221.58 L372.39,219.70 L372.97,217.83 L373.55,215.95 L374.13,214.08 L374.72,212.21 L375.31,210.34 L375.89,208.46 L376.49,206.59 L377.08,204.72 L377.67,202.85 L378.27,200.98 L378.87,199.11 L379.47,197.24 L380.07,195.38 L380.68,193.51 L381.29,191.64 L381.90,189.78 L382.51,187.91 L383.12,186.05 L383.74,184.19 L384.36,182.32 L384.98,180.46 L385.61,178.60 L386.23,176.74 L386.86,174.88 L387.50,173.02 L388.13,171.16 L388.77,169.31 L389.41,167.45 L390.06,165.60 L390.71,163.74 L391.36,161.89 L392.01,160.04 L392.67,158.19 L393.34,156.34 L394.01,154.49 L394.70,152.65 L395.40,150.81 L396.11,148.98 L396.84,147.15 L397.59,145.33 L398.35,143.52 L399.14,141.71 L399.96,139.91 L400.79,138.12 L401.66,136.34 L402.55,134.57 L403.47,132.81 L404.43,131.06 L405.42,129.33 L406.44,127.60 L407.50,125.89 L408.61,124.19 L409.75,122.51 L410.93,120.84 L412.17,119.18 L413.44,117.56 L414.76,115.99 L416.12,114.52 L417.53,113.19 L418.97,112.04 L420.45,111.10 L421.96,110.41 L423.50,110.02 L425.08,109.96 L426.67,110.24 L428.28,110.82 L429.88,111.67 L431.45,112.75 L432.98,114.02 L434.45,115.44 L435.84,116.97 L437.14,118.58 L438.35,120.24 L439.46,121.93 L440.50,123.65 L441.47,125.40 L442.40,127.16 L443.29,128.95 L444.16,130.74 L445.01,132.53 L445.86,134.32 L446.69,136.12 L447.52,137.93 L448.34,139.73 L449.14,141.54 L449.94,143.35 L450.73,145.16 L451.51,146.98 L452.28,148.80 L453.04,150.62 L453.80,152.44 L454.54,154.26 L455.28,156.09 L456.01,157.92 L456.73,159.76 L457.45,161.59 L458.16,163.43 L458.86,165.27 L459.55,167.11 L460.24,168.95 L460.92,170.80 L461.59,172.64 L462.26,174.49 L462.92,176.34 L463.57,178.20 L464.22,180.05 L464.86,181.91 L465.50,183.76 L466.13,185.62 L466.76,187.48 L467.38,189.35 L468.00,191.21 L468.61,193.08 L469.22,194.94 L469.82,196.81 L470.42,198.68 L471.02,200.55 L471.61,202.42 L472.20,204.29 L472.78,206.17 L473.36,208.04 L473.94,209.92 L474.51,211.79 L475.08,213.67 L475.65,215.55 L476.22,217.43 L476.78,219.31 L477.34,221.19 L477.90,223.07 L478.46,224.95 L479.01,226.83 L479.57,228.71 L480.12,230.60 L480.67,232.48 L481.22,234.36 L481.77,236.25 L482.32,238.13 L482.87,240.01 L483.41,241.90 L483.96,243.78 L484.51,245.67 L485.05,247.55 L485.60,249.43 L486.15,251.32 L486.70,253.20 L487.24,255.08 L487.79,256.97 L488.34,258.85 L488.89,260.73 L489.44,262.62 L489.99,264.50 L490.55,266.38 L491.10,268.26 L491.65,270.15 L492.21,272.03 L492.76,273.91 L493.31,275.79 L493.87,277.67 L494.43,279.56 L494.98,281.44 L495.54,283.32 L496.10,285.20 L496.65,287.08 L497.21,288.96 L497.77,290.85 L498.33,292.73 L498.89,294.61 L499.45,296.49 L500.01,298.37 L500.57,300.25 L501.13,302.14 L501.69,304.02 L502.26,305.90 L502.82,307.78 L503.38,309.66 L503.95,311.55 L504.51,313.43 L505.07,315.31 L505.64,317.19 L506.20,319.08 L506.77,320.96 L507.34,322.84 L507.90,324.73 L508.47,326.61 L509.03,328.49 L509.60,330.38 L510.17,332.26 L510.74,334.15 L511.31,336.03 L511.87,337.92 L512.44,339.80 L513.01,341.69 L513.58,343.57 L514.15,345.46 L514.72,347.34 L515.30,349.23 L515.87,351.12 L516.45,353.00 L517.02,354.88 L517.60,356.77 L518.18,358.65 L518.77,360.53 L519.36,362.41 L519.95,364.29 L520.54,366.17 L521.14,368.05 L521.74,369.92 L522.35,371.80 L522.96,373.67 L523.58,375.54 L524.20,377.40 L524.82,379.27 L525.46,381.13 L526.09,382.99 L526.74,384.84 L527.39,386.70 L528.04,388.55 L528.71,390.40 L529.38,392.24 L530.05,394.08 L530.74,395.92 L531.43,397.75 L532.13,399.58 L532.84,401.41 L533.56,403.23 L534.29,405.05 L535.03,406.86 L535.77,408.67 L536.53,410.47 L537.29,412.27 L538.07,414.07 L538.85,415.86 L539.65,417.64 L540.46,419.42 L541.28,421.19 L542.11,422.96 L542.95,424.72 L543.80,426.48 L544.67,428.23 L545.54,429.97 L546.44,431.71 L547.34,433.44 L548.26,435.16 L549.19,436.88 L550.13,438.59 L551.09,440.30 L552.06,441.99 L553.05,443.68 L554.05,445.37 L555.07,447.04 L556.10,448.71 L557.15,450.37 L558.22,452.02 L559.30,453.66 L560.39,455.30 L561.50,456.93 L562.63,458.55 L563.78,460.16 L564.94,461.76 L566.12,463.35 L567.32,464.92 L568.54,466.49 L569.77,468.05 L571.01,469.59 L572.28,471.12 L573.56,472.63 L574.85,474.13 L576.17,475.62 L577.50,477.09 L578.85,478.54 L580.21,479.97 L581.59,481.39 L582.99,482.79 L584.40,484.17 L585.83,485.52 L587.27,486.86 L588.74,488.18 L590.21,489.48 L591.71,490.75 L593.22,492.00 L594.75,493.22 L596.29,494.42 L597.85,495.60 L599.43,496.75 L601.02,497.87 L602.62,498.97 L604.25,500.04 L605.89,501.08 L607.54,502.09 L609.22,503.08 L610.90,504.03 L612.61,504.95 L614.33,505.84 L616.06,506.70 L617.81,507.52 L619.58,508.31 L621.36,509.07 L623.16,509.79 L624.98,510.48 L626.81,511.13 L628.65,511.74 L630.52,512.32 L632.39,512.86 L634.29,513.36 L636.19,513.82 L638.12,514.24 L640.06,514.62 L642.01,514.96 L643.98,515.26 L645.97,515.51 L647.97,515.73 L649.98,515.89 L652.02,516.02 L654.06,516.10 L656.12,516.13 L658.20,516.11 L660.29,516.05" fill="none" stroke="#262626" stroke-width="1.15" stroke-dasharray="15.5 5.6"/>
<text x="-0.2" y="631.9">(b)</text>
<g><text x="54.9" y="1154.5">−5</text><text x="122.2" y="1154.5">−4</text><text x="195.8" y="1154.5">−3</text><text x="267.9" y="1154.5">−2</text><text x="334.9" y="1154.5">−1</text><text x="417.25" y="1154.5">0</text><text x="486.95" y="1154.5">1</text><text x="556.3" y="1154.5">2</text><text x="627.55" y="1154.5">3</text><text x="698.2" y="1154.5">4</text><text x="765.65" y="1154.5">5</text></g>
<g text-anchor="end"><text x="60.2" y="634.8">50</text><text x="60.4" y="733.1">40</text><text x="60.9" y="835.0">30</text><text x="60.9" y="933.6">20</text><text x="60.6" y="1036.3">10</text><text x="60.8" y="1138.2">0</text></g>
<text transform="translate(16.9,935.6) rotate(-90)" style="font-size:19.3px">Percentage</text>
<text x="352.2" y="1189.8" style="font-size:19.2px">BMI-for-age <tspan font-style="italic">z</tspan>-score</text>
<path d="M69.75,622.45V1127.9H772.7M69.75,623.2h7.3M69.75,723.8h7.3M69.75,824.8h7.3M69.75,925.8h7.3M69.75,1026.6h7.3M69.50,1127.9v-6.9M139.82,1127.9v-6.9M210.14,1127.9v-6.9M280.46,1127.9v-6.9M350.78,1127.9v-6.9M421.10,1127.9v-6.9M491.42,1127.9v-6.9M561.74,1127.9v-6.9M632.06,1127.9v-6.9M702.38,1127.9v-6.9M772.70,1127.9v-6.9" fill="none" stroke="#131514" stroke-width="1.7"/>
<path d="M140.70,1126.89 L142.62,1126.52 L144.53,1126.14 L146.44,1125.73 L148.35,1125.31 L150.26,1124.86 L152.17,1124.40 L154.07,1123.91 L155.97,1123.40 L157.87,1122.88 L159.76,1122.33 L161.64,1121.76 L163.52,1121.17 L165.40,1120.55 L167.26,1119.92 L169.12,1119.26 L170.97,1118.59 L172.81,1117.89 L174.65,1117.16 L176.47,1116.42 L178.28,1115.65 L180.08,1114.86 L181.87,1114.05 L183.65,1113.21 L185.42,1112.35 L187.17,1111.46 L188.91,1110.56 L190.63,1109.63 L192.34,1108.67 L194.04,1107.69 L195.72,1106.69 L197.39,1105.67 L199.04,1104.62 L200.67,1103.55 L202.29,1102.46 L203.90,1101.34 L205.49,1100.21 L207.06,1099.05 L208.62,1097.88 L210.16,1096.68 L211.69,1095.46 L213.21,1094.22 L214.70,1092.97 L216.19,1091.69 L217.65,1090.40 L219.10,1089.09 L220.54,1087.75 L221.96,1086.41 L223.36,1085.04 L224.75,1083.66 L226.12,1082.25 L227.48,1080.84 L228.82,1079.40 L230.14,1077.95 L231.45,1076.49 L232.74,1075.01 L234.01,1073.51 L235.27,1072.00 L236.51,1070.48 L237.74,1068.94 L238.95,1067.39 L240.14,1065.82 L241.32,1064.24 L242.48,1062.65 L243.62,1061.05 L244.75,1059.43 L245.86,1057.80 L246.95,1056.16 L248.02,1054.51 L249.08,1052.85 L250.12,1051.17 L251.15,1049.49 L252.16,1047.80 L253.15,1046.10 L254.13,1044.38 L255.09,1042.66 L256.04,1040.93 L256.97,1039.20 L257.88,1037.45 L258.78,1035.70 L259.67,1033.93 L260.54,1032.16 L261.40,1030.39 L262.24,1028.61 L263.07,1026.82 L263.89,1025.02 L264.69,1023.23 L265.48,1021.42 L266.25,1019.61 L267.01,1017.80 L267.76,1015.98 L268.50,1014.15 L269.23,1012.33 L269.94,1010.50 L270.64,1008.66 L271.33,1006.83 L272.00,1004.99 L272.67,1003.15 L273.33,1001.30 L273.97,999.45 L274.61,997.60 L275.23,995.75 L275.85,993.90 L276.46,992.04 L277.06,990.18 L277.65,988.32 L278.23,986.46 L278.81,984.59 L279.38,982.72 L279.95,980.85 L280.50,978.98 L281.06,977.10 L281.60,975.23 L282.15,973.35 L282.68,971.47 L283.22,969.58 L283.75,967.70 L284.27,965.81 L284.80,963.92 L285.32,962.03 L285.84,960.14 L286.36,958.25 L286.87,956.36 L287.39,954.46 L287.90,952.56 L288.41,950.66 L288.93,948.76 L289.43,946.86 L289.94,944.96 L290.45,943.06 L290.96,941.15 L291.46,939.24 L291.96,937.34 L292.47,935.43 L292.97,933.52 L293.47,931.61 L293.96,929.70 L294.46,927.79 L294.96,925.88 L295.45,923.97 L295.94,922.05 L296.44,920.14 L296.93,918.23 L297.42,916.31 L297.91,914.40 L298.39,912.48 L298.88,910.57 L299.37,908.65 L299.85,906.74 L300.33,904.82 L300.81,902.91 L301.29,900.99 L301.77,899.08 L302.25,897.16 L302.73,895.25 L303.21,893.33 L303.68,891.42 L304.15,889.51 L304.63,887.59 L305.10,885.68 L305.57,883.77 L306.04,881.86 L306.51,879.95 L306.98,878.04 L307.44,876.13 L307.91,874.22 L308.37,872.31 L308.84,870.41 L309.30,868.50 L309.76,866.60 L310.22,864.69 L310.68,862.79 L311.14,860.89 L311.60,858.99 L312.05,857.09 L312.51,855.19 L312.96,853.30 L313.42,851.40 L313.87,849.51 L314.33,847.62 L314.78,845.73 L315.23,843.84 L315.69,841.95 L316.14,840.07 L316.60,838.18 L317.06,836.29 L317.52,834.41 L317.99,832.52 L318.45,830.64 L318.92,828.75 L319.40,826.87 L319.87,824.99 L320.35,823.10 L320.84,821.22 L321.33,819.34 L321.82,817.45 L322.32,815.57 L322.83,813.68 L323.34,811.80 L323.86,809.91 L324.38,808.03 L324.91,806.14 L325.45,804.25 L325.99,802.36 L326.55,800.47 L327.11,798.58 L327.68,796.69 L328.26,794.79 L328.85,792.90 L329.44,791.00 L330.05,789.10 L330.66,787.20 L331.29,785.30 L331.93,783.40 L332.58,781.49 L333.24,779.59 L333.91,777.68 L334.59,775.77 L335.29,773.85 L335.99,771.94 L336.71,770.02 L337.45,768.09 L338.20,766.17 L338.96,764.24 L339.73,762.31 L340.52,760.38 L341.33,758.45 L342.15,756.51 L342.99,754.60 L343.87,752.72 L344.78,750.90 L345.74,749.14 L346.74,747.48 L347.81,745.93 L348.94,744.50 L350.14,743.21 L351.42,742.09 L352.79,741.14 L354.25,740.39 L355.79,739.84 L357.39,739.52 L359.04,739.43 L360.72,739.57 L362.42,739.92 L364.12,740.48 L365.80,741.22 L367.45,742.14 L369.05,743.22 L370.59,744.45 L372.05,745.80 L373.42,747.28 L374.70,748.85 L375.92,750.50 L377.07,752.22 L378.18,753.98 L379.24,755.77 L380.28,757.57 L381.29,759.36 L382.28,761.15 L383.25,762.94 L384.20,764.73 L385.13,766.51 L386.05,768.30 L386.94,770.08 L387.81,771.86 L388.67,773.64 L389.51,775.43 L390.34,777.21 L391.15,778.99 L391.95,780.78 L392.73,782.57 L393.50,784.36 L394.26,786.15 L395.00,787.95 L395.73,789.74 L396.46,791.55 L397.17,793.35 L397.87,795.16 L398.56,796.98 L399.25,798.80 L399.93,800.63 L400.60,802.46 L401.26,804.30 L401.92,806.14 L402.57,807.99 L403.22,809.85 L403.87,811.71 L404.51,813.57 L405.14,815.44 L405.78,817.31 L406.41,819.18 L407.04,821.05 L407.67,822.93 L408.30,824.81 L408.92,826.68 L409.55,828.56 L410.18,830.44 L410.81,832.32 L411.44,834.19 L412.08,836.07 L412.71,837.94 L413.35,839.82 L414.00,841.68 L414.65,843.55 L415.30,845.41 L415.96,847.27 L416.62,849.12 L417.29,850.97 L417.97,852.82 L418.65,854.66 L419.34,856.50 L420.03,858.33 L420.72,860.16 L421.42,861.99 L422.12,863.82 L422.83,865.64 L423.54,867.46 L424.25,869.28 L424.97,871.10 L425.69,872.92 L426.41,874.73 L427.13,876.55 L427.86,878.36 L428.58,880.18 L429.31,881.99 L430.04,883.81 L430.77,885.62 L431.50,887.44 L432.23,889.25 L432.96,891.07 L433.69,892.89 L434.42,894.72 L435.14,896.54 L435.87,898.37 L436.60,900.19 L437.32,902.02 L438.05,903.85 L438.77,905.69 L439.50,907.52 L440.23,909.35 L440.96,911.19 L441.69,913.02 L442.42,914.86 L443.15,916.69 L443.89,918.53 L444.62,920.36 L445.36,922.19 L446.11,924.03 L446.85,925.86 L447.60,927.69 L448.36,929.52 L449.12,931.34 L449.88,933.17 L450.65,934.99 L451.42,936.81 L452.19,938.63 L452.98,940.45 L453.76,942.26 L454.56,944.07 L455.36,945.87 L456.16,947.67 L456.98,949.47 L457.80,951.27 L458.63,953.06 L459.46,954.84 L460.31,956.62 L461.16,958.40 L462.02,960.17 L462.88,961.93 L463.76,963.69 L464.65,965.45 L465.55,967.20 L466.45,968.94 L467.37,970.67 L468.29,972.40 L469.23,974.13 L470.18,975.84 L471.14,977.55 L472.11,979.25 L473.09,980.94 L474.08,982.63 L475.09,984.31 L476.11,985.97 L477.14,987.64 L478.18,989.29 L479.24,990.93 L480.31,992.56 L481.40,994.19 L482.50,995.80 L483.61,997.41 L484.74,999.00 L485.89,1000.59 L487.04,1002.16 L488.22,1003.73 L489.41,1005.28 L490.61,1006.82 L491.84,1008.36 L493.07,1009.88 L494.33,1011.39 L495.60,1012.88 L496.88,1014.37 L498.18,1015.84 L499.49,1017.31 L500.82,1018.76 L502.16,1020.20 L503.51,1021.63 L504.88,1023.04 L506.26,1024.44 L507.66,1025.84 L509.06,1027.22 L510.48,1028.58 L511.92,1029.94 L513.36,1031.28 L514.82,1032.61 L516.29,1033.93 L517.77,1035.23 L519.26,1036.52 L520.76,1037.80 L522.27,1039.06 L523.79,1040.32 L525.32,1041.56 L526.87,1042.78 L528.42,1043.99 L529.98,1045.19 L531.55,1046.38 L533.13,1047.55 L534.72,1048.72 L536.31,1049.87 L537.91,1051.02 L539.51,1052.16 L541.11,1053.29 L542.72,1054.42 L544.33,1055.55 L545.94,1056.67 L547.55,1057.80 L549.17,1058.92 L550.78,1060.04 L552.38,1061.17 L553.99,1062.30 L555.59,1063.43 L557.18,1064.57 L558.77,1065.72 L560.35,1066.87 L561.93,1068.04 L563.50,1069.21 L565.05,1070.40 L566.60,1071.60 L568.14,1072.81 L569.67,1074.03 L571.19,1075.26 L572.70,1076.51 L574.20,1077.76 L575.70,1079.03 L577.18,1080.30 L578.66,1081.58 L580.14,1082.87 L581.60,1084.17 L583.06,1085.48 L584.52,1086.79 L585.97,1088.11 L587.41,1089.43 L588.85,1090.76 L590.29,1092.10 L591.72,1093.43 L593.15,1094.77 L594.57,1096.12 L596.00,1097.47 L597.42,1098.81 L598.84,1100.17 L600.25,1101.52 L601.67,1102.87 L603.09,1104.22 L604.51,1105.57 L605.93,1106.91 L607.36,1108.24 L608.80,1109.56 L610.24,1110.87 L611.71,1112.17 L613.18,1113.45 L614.67,1114.71 L616.18,1115.96 L617.71,1117.17 L619.26,1118.37 L620.84,1119.54 L622.44,1120.67 L624.07,1121.78 L625.73,1122.85 L627.42,1123.89 L629.15,1124.89 L630.91,1125.85 L632.71,1126.77" fill="none" stroke="#E0782E" stroke-width="1.5" stroke-linejoin="round"/>
<path d="M70.02,1124.81 L71.94,1124.78 L73.86,1124.77 L75.80,1124.76 L77.73,1124.76 L79.68,1124.76 L81.63,1124.76 L83.58,1124.77 L85.54,1124.78 L87.51,1124.80 L89.47,1124.81 L91.45,1124.81 L93.42,1124.82 L95.40,1124.82 L97.38,1124.82 L99.36,1124.81 L101.34,1124.79 L103.32,1124.76 L105.31,1124.72 L107.29,1124.67 L109.27,1124.61 L111.26,1124.54 L113.24,1124.45 L115.22,1124.34 L117.20,1124.22 L119.17,1124.08 L121.14,1123.92 L123.11,1123.74 L125.08,1123.54 L127.04,1123.32 L129.00,1123.07 L130.95,1122.79 L132.90,1122.49 L134.84,1122.17 L136.77,1121.81 L138.70,1121.42 L140.62,1121.01 L142.54,1120.56 L144.44,1120.08 L146.34,1119.57 L148.23,1119.03 L150.11,1118.46 L151.97,1117.86 L153.83,1117.23 L155.68,1116.56 L157.51,1115.87 L159.34,1115.15 L161.15,1114.40 L162.94,1113.62 L164.73,1112.81 L166.49,1111.98 L168.25,1111.11 L169.99,1110.21 L171.71,1109.29 L173.41,1108.34 L175.10,1107.36 L176.77,1106.35 L178.43,1105.31 L180.06,1104.25 L181.68,1103.15 L183.27,1102.04 L184.85,1100.89 L186.41,1099.72 L187.95,1098.52 L189.48,1097.31 L190.99,1096.06 L192.48,1094.80 L193.95,1093.51 L195.41,1092.20 L196.85,1090.87 L198.27,1089.53 L199.68,1088.16 L201.08,1086.77 L202.46,1085.37 L203.83,1083.95 L205.18,1082.52 L206.53,1081.07 L207.85,1079.61 L209.17,1078.13 L210.47,1076.64 L211.76,1075.13 L213.04,1073.62 L214.31,1072.10 L215.57,1070.56 L216.82,1069.02 L218.06,1067.47 L219.28,1065.91 L220.50,1064.34 L221.71,1062.77 L222.91,1061.19 L224.11,1059.61 L225.29,1058.03 L226.47,1056.44 L227.64,1054.85 L228.80,1053.25 L229.96,1051.66 L231.11,1050.06 L232.25,1048.46 L233.38,1046.86 L234.51,1045.25 L235.64,1043.64 L236.75,1042.03 L237.86,1040.42 L238.96,1038.80 L240.06,1037.18 L241.15,1035.56 L242.23,1033.93 L243.30,1032.30 L244.37,1030.67 L245.44,1029.03 L246.49,1027.39 L247.54,1025.74 L248.59,1024.09 L249.63,1022.44 L250.66,1020.78 L251.69,1019.12 L252.71,1017.46 L253.72,1015.79 L254.73,1014.12 L255.74,1012.45 L256.74,1010.77 L257.73,1009.09 L258.72,1007.41 L259.70,1005.72 L260.68,1004.03 L261.66,1002.34 L262.63,1000.65 L263.60,998.95 L264.56,997.25 L265.52,995.55 L266.47,993.84 L267.43,992.13 L268.37,990.42 L269.32,988.71 L270.26,987.00 L271.20,985.28 L272.13,983.56 L273.06,981.84 L273.99,980.12 L274.92,978.39 L275.84,976.67 L276.76,974.94 L277.68,973.21 L278.60,971.48 L279.51,969.75 L280.43,968.01 L281.34,966.28 L282.25,964.54 L283.16,962.80 L284.06,961.07 L284.97,959.33 L285.87,957.59 L286.78,955.84 L287.68,954.10 L288.58,952.36 L289.49,950.62 L290.39,948.87 L291.29,947.13 L292.19,945.38 L293.09,943.64 L293.99,941.89 L294.89,940.15 L295.79,938.40 L296.69,936.65 L297.60,934.91 L298.50,933.16 L299.40,931.42 L300.31,929.67 L301.22,927.93 L302.12,926.18 L303.03,924.44 L303.94,922.70 L304.85,920.95 L305.77,919.21 L306.68,917.47 L307.60,915.73 L308.52,913.99 L309.45,912.25 L310.37,910.51 L311.30,908.78 L312.23,907.04 L313.16,905.31 L314.10,903.58 L315.04,901.85 L315.98,900.12 L316.93,898.39 L317.88,896.66 L318.84,894.94 L319.80,893.23 L320.77,891.51 L321.75,889.80 L322.73,888.09 L323.73,886.39 L324.73,884.70 L325.75,883.01 L326.77,881.32 L327.81,879.65 L328.86,877.98 L329.92,876.32 L331.00,874.66 L332.09,873.01 L333.19,871.38 L334.31,869.75 L335.45,868.13 L336.60,866.52 L337.77,864.92 L338.96,863.33 L340.17,861.76 L341.40,860.19 L342.65,858.64 L343.92,857.10 L345.21,855.57 L346.53,854.06 L347.87,852.58 L349.23,851.14 L350.62,849.73 L352.05,848.37 L353.50,847.06 L354.98,845.80 L356.50,844.61 L358.05,843.49 L359.64,842.44 L361.26,841.48 L362.92,840.60 L364.62,839.82 L366.35,839.12 L368.11,838.53 L369.90,838.02 L371.72,837.62 L373.56,837.32 L375.41,837.12 L377.29,837.03 L379.17,837.04 L381.07,837.15 L382.97,837.36 L384.87,837.67 L386.76,838.06 L388.65,838.54 L390.53,839.11 L392.39,839.76 L394.24,840.48 L396.05,841.28 L397.84,842.15 L399.60,843.09 L401.33,844.09 L403.01,845.16 L404.65,846.28 L406.24,847.46 L407.78,848.69 L409.27,849.96 L410.71,851.29 L412.11,852.66 L413.47,854.07 L414.78,855.52 L416.05,857.01 L417.29,858.53 L418.49,860.09 L419.66,861.67 L420.80,863.28 L421.91,864.92 L422.99,866.59 L424.04,868.27 L425.08,869.97 L426.09,871.69 L427.09,873.42 L428.07,875.16 L429.03,876.91 L429.99,878.67 L430.93,880.43 L431.87,882.19 L432.80,883.95 L433.72,885.71 L434.64,887.47 L435.56,889.22 L436.48,890.97 L437.40,892.71 L438.31,894.45 L439.22,896.19 L440.13,897.93 L441.03,899.66 L441.94,901.39 L442.84,903.12 L443.75,904.85 L444.65,906.57 L445.55,908.30 L446.45,910.02 L447.35,911.74 L448.24,913.46 L449.14,915.18 L450.04,916.90 L450.93,918.62 L451.83,920.34 L452.73,922.06 L453.62,923.78 L454.52,925.50 L455.42,927.22 L456.32,928.94 L457.22,930.67 L458.12,932.39 L459.02,934.12 L459.92,935.85 L460.82,937.58 L461.73,939.31 L462.64,941.04 L463.54,942.78 L464.45,944.52 L465.37,946.27 L466.28,948.01 L467.20,949.76 L468.12,951.52 L469.04,953.28 L469.97,955.03 L470.90,956.79 L471.84,958.55 L472.78,960.30 L473.74,962.05 L474.70,963.80 L475.67,965.54 L476.65,967.28 L477.64,969.01 L478.64,970.73 L479.66,972.44 L480.69,974.14 L481.73,975.83 L482.79,977.50 L483.87,979.16 L484.96,980.81 L486.07,982.43 L487.19,984.05 L488.34,985.64 L489.51,987.21 L490.70,988.77 L491.91,990.30 L493.14,991.81 L494.40,993.29 L495.67,994.75 L496.98,996.19 L498.30,997.60 L499.65,998.99 L501.02,1000.35 L502.42,1001.69 L503.83,1003.00 L505.27,1004.29 L506.73,1005.55 L508.21,1006.78 L509.72,1007.99 L511.25,1009.18 L512.79,1010.34 L514.36,1011.47 L515.95,1012.57 L517.57,1013.65 L519.20,1014.70 L520.85,1015.73 L522.53,1016.73 L524.22,1017.70 L525.94,1018.64 L527.67,1019.56 L529.43,1020.45 L531.19,1021.32 L532.98,1022.18 L534.77,1023.02 L536.57,1023.85 L538.37,1024.66 L540.18,1025.48 L541.99,1026.29 L543.80,1027.10 L545.61,1027.92 L547.41,1028.74 L549.20,1029.58 L550.99,1030.42 L552.76,1031.28 L554.51,1032.16 L556.25,1033.07 L557.97,1034.00 L559.67,1034.95 L561.34,1035.94 L562.99,1036.96 L564.61,1038.02 L566.20,1039.11 L567.77,1040.24 L569.31,1041.40 L570.84,1042.59 L572.33,1043.80 L573.81,1045.05 L575.27,1046.32 L576.71,1047.62 L578.13,1048.94 L579.54,1050.28 L580.94,1051.64 L582.31,1053.02 L583.68,1054.42 L585.04,1055.83 L586.38,1057.26 L587.72,1058.70 L589.05,1060.15 L590.37,1061.61 L591.69,1063.08 L593.01,1064.56 L594.32,1066.04 L595.63,1067.52 L596.94,1069.01 L598.25,1070.50 L599.56,1071.99 L600.88,1073.48 L602.20,1074.96 L603.53,1076.44 L604.86,1077.91 L606.20,1079.37 L607.55,1080.83 L608.91,1082.27 L610.29,1083.70 L611.67,1085.12 L613.06,1086.53 L614.47,1087.92 L615.89,1089.29 L617.31,1090.65 L618.76,1091.99 L620.21,1093.32 L621.68,1094.62 L623.16,1095.91 L624.66,1097.17 L626.17,1098.41 L627.70,1099.63 L629.24,1100.83 L630.80,1102.00 L632.37,1103.15 L633.96,1104.27 L635.56,1105.36 L637.19,1106.42 L638.83,1107.46 L640.48,1108.46 L642.16,1109.44 L643.85,1110.38 L645.56,1111.29 L647.29,1112.17 L649.04,1113.01 L650.81,1113.82 L652.59,1114.60 L654.39,1115.34 L656.21,1116.06 L658.04,1116.74 L659.89,1117.40 L661.74,1118.03 L663.61,1118.63 L665.50,1119.20 L667.39,1119.74 L669.29,1120.26 L671.21,1120.76 L673.13,1121.23 L675.06,1121.67 L676.99,1122.09 L678.94,1122.49 L680.89,1122.87 L682.84,1123.23 L684.80,1123.56 L686.76,1123.88 L688.72,1124.18 L690.69,1124.45 L692.65,1124.72 L694.62,1124.96 L696.59,1125.19 L698.55,1125.40 L700.52,1125.59 L702.48,1125.78 L704.44,1125.95 L706.39,1126.10 L708.34,1126.24 L710.28,1126.38 L712.22,1126.50 L714.15,1126.61 L716.07,1126.71 L717.98,1126.80 L719.88,1126.88M720.00,1127.40H772.00" fill="none" stroke="#111111" stroke-width="1.6" stroke-linejoin="round"/>
<path d="M115.89,1126.78 L118.03,1126.93 L120.14,1127.00 L122.21,1126.97 L124.24,1126.87 L126.24,1126.69 L128.21,1126.44 L130.15,1126.12 L132.06,1125.74 L133.95,1125.29 L135.82,1124.79 L137.66,1124.24 L139.48,1123.64 L141.29,1123.00 L143.08,1122.31 L144.85,1121.59 L146.62,1120.83 L148.37,1120.05 L150.12,1119.24 L151.86,1118.41 L153.60,1117.57 L155.33,1116.71 L157.07,1115.84 L158.80,1114.97 L160.54,1114.09 L162.28,1113.21 L164.02,1112.32 L165.76,1111.42 L167.50,1110.52 L169.24,1109.61 L170.98,1108.70 L172.71,1107.77 L174.45,1106.84 L176.18,1105.91 L177.92,1104.96 L179.65,1104.01 L181.37,1103.05 L183.10,1102.09 L184.82,1101.11 L186.53,1100.13 L188.24,1099.13 L189.95,1098.13 L191.65,1097.12 L193.35,1096.11 L195.04,1095.08 L196.73,1094.04 L198.41,1092.99 L200.08,1091.94 L201.75,1090.87 L203.41,1089.80 L205.06,1088.71 L206.70,1087.61 L208.34,1086.51 L209.97,1085.39 L211.59,1084.26 L213.20,1083.12 L214.80,1081.97 L216.39,1080.81 L217.97,1079.63 L219.53,1078.45 L221.09,1077.25 L222.64,1076.04 L224.18,1074.82 L225.70,1073.58 L227.21,1072.33 L228.71,1071.07 L230.20,1069.80 L231.67,1068.51 L233.13,1067.21 L234.57,1065.90 L236.00,1064.57 L237.42,1063.23 L238.83,1061.88 L240.21,1060.51 L241.59,1059.13 L242.95,1057.74 L244.30,1056.34 L245.64,1054.92 L246.96,1053.49 L248.27,1052.05 L249.57,1050.60 L250.85,1049.14 L252.12,1047.66 L253.38,1046.18 L254.63,1044.68 L255.86,1043.18 L257.08,1041.66 L258.29,1040.14 L259.49,1038.60 L260.67,1037.06 L261.85,1035.50 L263.01,1033.94 L264.16,1032.37 L265.30,1030.79 L266.43,1029.20 L267.55,1027.60 L268.65,1026.00 L269.75,1024.38 L270.84,1022.76 L271.91,1021.13 L272.98,1019.50 L274.03,1017.86 L275.07,1016.21 L276.11,1014.55 L277.13,1012.89 L278.14,1011.22 L279.15,1009.55 L280.14,1007.87 L281.13,1006.19 L282.10,1004.50 L283.07,1002.80 L284.03,1001.11 L284.98,999.40 L285.92,997.69 L286.85,995.98 L287.77,994.27 L288.69,992.55 L289.59,990.83 L290.49,989.10 L291.38,987.37 L292.27,985.64 L293.14,983.90 L294.01,982.16 L294.87,980.42 L295.73,978.67 L296.58,976.92 L297.42,975.17 L298.26,973.41 L299.10,971.66 L299.92,969.90 L300.75,968.13 L301.56,966.37 L302.38,964.60 L303.18,962.83 L303.99,961.06 L304.79,959.29 L305.59,957.52 L306.38,955.74 L307.17,953.96 L307.96,952.18 L308.74,950.40 L309.52,948.62 L310.30,946.83 L311.08,945.05 L311.86,943.26 L312.63,941.47 L313.40,939.69 L314.18,937.90 L314.95,936.11 L315.72,934.32 L316.49,932.53 L317.26,930.74 L318.03,928.95 L318.80,927.15 L319.57,925.36 L320.34,923.57 L321.11,921.78 L321.88,919.99 L322.66,918.20 L323.43,916.41 L324.21,914.62 L324.99,912.83 L325.77,911.04 L326.56,909.25 L327.34,907.46 L328.14,905.67 L328.93,903.89 L329.73,902.10 L330.53,900.32 L331.33,898.54 L332.14,896.76 L332.96,894.98 L333.77,893.20 L334.60,891.43 L335.43,889.65 L336.26,887.88 L337.10,886.11 L337.94,884.34 L338.79,882.58 L339.65,880.81 L340.51,879.05 L341.38,877.29 L342.26,875.54 L343.15,873.79 L344.04,872.04 L344.94,870.29 L345.85,868.55 L346.77,866.81 L347.70,865.08 L348.64,863.35 L349.60,861.63 L350.56,859.92 L351.54,858.21 L352.52,856.50 L353.53,854.81 L354.54,853.12 L355.57,851.44 L356.62,849.77 L357.68,848.11 L358.75,846.45 L359.85,844.81 L360.96,843.17 L362.08,841.55 L363.23,839.93 L364.39,838.33 L365.57,836.74 L366.77,835.15 L367.99,833.58 L369.23,832.03 L370.50,830.48 L371.78,828.95 L373.09,827.43 L374.42,825.93 L375.77,824.44 L377.14,822.96 L378.54,821.50 L379.97,820.05 L381.42,818.62 L382.89,817.22 L384.39,815.87 L385.92,814.58 L387.47,813.38 L389.05,812.27 L390.66,811.29 L392.30,810.44 L393.96,809.75 L395.66,809.22 L397.38,808.89 L399.13,808.76 L400.91,808.85 L402.71,809.14 L404.50,809.60 L406.27,810.22 L408.02,810.95 L409.71,811.80 L411.36,812.73 L412.94,813.73 L414.46,814.81 L415.93,815.96 L417.34,817.17 L418.71,818.45 L420.02,819.80 L421.29,821.20 L422.51,822.65 L423.69,824.16 L424.83,825.72 L425.93,827.32 L426.99,828.97 L428.01,830.65 L429.01,832.38 L429.97,834.13 L430.90,835.92 L431.80,837.73 L432.68,839.57 L433.53,841.43 L434.37,843.30 L435.18,845.20 L435.98,847.10 L436.76,849.01 L437.52,850.93 L438.28,852.85 L439.03,854.76 L439.76,856.68 L440.50,858.59 L441.22,860.49 L441.95,862.38 L442.66,864.27 L443.38,866.15 L444.09,868.02 L444.79,869.89 L445.49,871.75 L446.19,873.61 L446.88,875.46 L447.58,877.30 L448.26,879.14 L448.95,880.98 L449.63,882.81 L450.31,884.64 L450.98,886.46 L451.66,888.28 L452.33,890.10 L453.00,891.91 L453.67,893.72 L454.34,895.53 L455.01,897.34 L455.67,899.14 L456.34,900.95 L457.00,902.75 L457.66,904.55 L458.33,906.35 L458.99,908.15 L459.65,909.95 L460.32,911.74 L460.98,913.54 L461.65,915.34 L462.31,917.14 L462.98,918.94 L463.65,920.74 L464.32,922.55 L464.99,924.35 L465.66,926.16 L466.33,927.97 L467.01,929.78 L467.69,931.59 L468.37,933.41 L469.06,935.23 L469.75,937.05 L470.44,938.88 L471.13,940.71 L471.83,942.55 L472.53,944.39 L473.24,946.23 L473.95,948.07 L474.68,949.91 L475.40,951.75 L476.14,953.59 L476.89,955.43 L477.64,957.27 L478.41,959.10 L479.19,960.93 L479.97,962.76 L480.78,964.58 L481.59,966.39 L482.42,968.20 L483.26,970.00 L484.12,971.79 L484.99,973.57 L485.88,975.34 L486.79,977.11 L487.72,978.86 L488.67,980.59 L489.63,982.32 L490.62,984.03 L491.62,985.73 L492.65,987.41 L493.70,989.08 L494.78,990.73 L495.88,992.36 L497.00,993.98 L498.15,995.57 L499.32,997.15 L500.51,998.70 L501.73,1000.23 L502.98,1001.74 L504.25,1003.23 L505.55,1004.68 L506.87,1006.12 L508.22,1007.52 L509.59,1008.90 L510.99,1010.24 L512.41,1011.56 L513.86,1012.84 L515.34,1014.09 L516.84,1015.31 L518.37,1016.49 L519.92,1017.64 L521.51,1018.74 L523.11,1019.82 L524.75,1020.85 L526.41,1021.84 L528.10,1022.79 L529.82,1023.69 L531.56,1024.56 L533.33,1025.38 L535.13,1026.15 L536.96,1026.89 L538.80,1027.60 L540.65,1028.28 L542.52,1028.95 L544.39,1029.60 L546.27,1030.26 L548.15,1030.91 L550.02,1031.58 L551.88,1032.26 L553.73,1032.97 L555.56,1033.71 L557.37,1034.49 L559.16,1035.31 L560.92,1036.18 L562.66,1037.09 L564.37,1038.03 L566.07,1039.02 L567.74,1040.03 L569.40,1041.08 L571.03,1042.15 L572.66,1043.26 L574.26,1044.38 L575.86,1045.52 L577.44,1046.69 L579.01,1047.86 L580.57,1049.06 L582.12,1050.26 L583.66,1051.47 L585.19,1052.69 L586.72,1053.91 L588.24,1055.15 L589.76,1056.39 L591.26,1057.64 L592.77,1058.89 L594.27,1060.15 L595.77,1061.41 L597.26,1062.68 L598.75,1063.95 L600.24,1065.22 L601.73,1066.50 L603.21,1067.77 L604.70,1069.05 L606.18,1070.32 L607.67,1071.60 L609.16,1072.87 L610.65,1074.14 L612.14,1075.41 L613.63,1076.68 L615.13,1077.94 L616.63,1079.20 L618.14,1080.46 L619.65,1081.70 L621.17,1082.94 L622.69,1084.18 L624.22,1085.41 L625.76,1086.63 L627.30,1087.84 L628.85,1089.04 L630.41,1090.24 L631.98,1091.42 L633.55,1092.60 L635.13,1093.76 L636.72,1094.92 L638.31,1096.07 L639.91,1097.20 L641.52,1098.33 L643.14,1099.44 L644.76,1100.54 L646.40,1101.63 L648.04,1102.70 L649.68,1103.77 L651.34,1104.82 L653.00,1105.86 L654.67,1106.88 L656.35,1107.89 L658.04,1108.89 L659.73,1109.87 L661.44,1110.84 L663.15,1111.79 L664.87,1112.72 L666.60,1113.64 L668.33,1114.55 L670.08,1115.43 L671.83,1116.30 L673.59,1117.16 L675.36,1117.99 L677.14,1118.81 L678.93,1119.61 L680.72,1120.39 L682.53,1121.15 L684.34,1121.89 L686.17,1122.62 L688.00,1123.32 L689.84,1124.01 L691.69,1124.67 L693.54,1125.31 L695.41,1125.94 L697.29,1126.54 L699.17,1127.11 L701.07,1127.40" fill="none" stroke="#6ADF3A" stroke-width="1.5" stroke-linejoin="round"/>
<path d="M70.05,1124.56 L71.95,1124.57 L73.85,1124.58 L75.77,1124.60 L77.69,1124.61 L79.62,1124.62 L81.56,1124.64 L83.50,1124.65 L85.45,1124.66 L87.41,1124.66 L89.37,1124.66 L91.34,1124.65 L93.31,1124.64 L95.28,1124.62 L97.26,1124.59 L99.24,1124.56 L101.22,1124.51 L103.20,1124.45 L105.18,1124.38 L107.17,1124.30 L109.15,1124.21 L111.14,1124.10 L113.12,1123.97 L115.10,1123.83 L117.08,1123.67 L119.06,1123.50 L121.03,1123.30 L123.00,1123.09 L124.97,1122.86 L126.93,1122.60 L128.88,1122.32 L130.83,1122.02 L132.78,1121.70 L134.71,1121.35 L136.64,1120.97 L138.57,1120.57 L140.48,1120.14 L142.39,1119.68 L144.28,1119.19 L146.17,1118.67 L148.05,1118.13 L149.91,1117.54 L151.77,1116.93 L153.61,1116.28 L155.44,1115.60 L157.25,1114.88 L159.06,1114.13 L160.85,1113.35 L162.63,1112.53 L164.39,1111.67 L166.14,1110.79 L167.87,1109.87 L169.59,1108.93 L171.30,1107.96 L172.99,1106.95 L174.67,1105.92 L176.33,1104.87 L177.97,1103.79 L179.60,1102.68 L181.21,1101.55 L182.81,1100.39 L184.39,1099.22 L185.96,1098.02 L187.51,1096.80 L189.04,1095.56 L190.55,1094.30 L192.05,1093.03 L193.53,1091.73 L194.99,1090.42 L196.43,1089.10 L197.86,1087.75 L199.26,1086.40 L200.65,1085.03 L202.03,1083.64 L203.38,1082.24 L204.72,1080.83 L206.04,1079.40 L207.35,1077.97 L208.64,1076.51 L209.92,1075.05 L211.18,1073.57 L212.42,1072.08 L213.65,1070.58 L214.87,1069.07 L216.07,1067.54 L217.26,1066.01 L218.44,1064.46 L219.60,1062.90 L220.75,1061.33 L221.89,1059.76 L223.02,1058.17 L224.13,1056.57 L225.24,1054.96 L226.33,1053.35 L227.41,1051.72 L228.48,1050.09 L229.54,1048.45 L230.59,1046.80 L231.63,1045.14 L232.66,1043.48 L233.68,1041.80 L234.69,1040.12 L235.70,1038.44 L236.69,1036.75 L237.68,1035.05 L238.66,1033.34 L239.64,1031.63 L240.60,1029.92 L241.56,1028.19 L242.52,1026.47 L243.47,1024.74 L244.41,1023.00 L245.34,1021.26 L246.27,1019.52 L247.20,1017.77 L248.12,1016.02 L249.04,1014.27 L249.95,1012.51 L250.86,1010.75 L251.77,1008.99 L252.67,1007.23 L253.57,1005.46 L254.47,1003.69 L255.37,1001.93 L256.26,1000.16 L257.16,998.39 L258.05,996.62 L258.94,994.84 L259.83,993.07 L260.72,991.30 L261.61,989.53 L262.50,987.76 L263.39,985.99 L264.28,984.23 L265.17,982.46 L266.06,980.70 L266.96,978.93 L267.85,977.17 L268.75,975.42 L269.65,973.66 L270.56,971.91 L271.46,970.15 L272.37,968.40 L273.27,966.66 L274.18,964.91 L275.09,963.17 L276.00,961.42 L276.92,959.68 L277.83,957.94 L278.74,956.20 L279.66,954.47 L280.57,952.73 L281.49,951.00 L282.41,949.27 L283.32,947.53 L284.24,945.80 L285.16,944.08 L286.08,942.35 L287.00,940.62 L287.91,938.90 L288.83,937.17 L289.75,935.45 L290.67,933.72 L291.59,932.00 L292.51,930.28 L293.42,928.56 L294.34,926.84 L295.26,925.12 L296.17,923.40 L297.09,921.68 L298.00,919.96 L298.92,918.24 L299.83,916.53 L300.74,914.81 L301.65,913.09 L302.56,911.37 L303.47,909.66 L304.38,907.94 L305.28,906.22 L306.19,904.50 L307.09,902.79 L307.99,901.07 L308.89,899.35 L309.79,897.63 L310.69,895.92 L311.60,894.20 L312.51,892.49 L313.43,890.78 L314.36,889.07 L315.29,887.36 L316.24,885.66 L317.20,883.96 L318.17,882.27 L319.15,880.58 L320.15,878.89 L321.17,877.21 L322.21,875.53 L323.26,873.86 L324.34,872.20 L325.44,870.54 L326.57,868.89 L327.71,867.25 L328.89,865.62 L330.09,863.99 L331.33,862.37 L332.59,860.76 L333.88,859.17 L335.20,857.60 L336.55,856.05 L337.92,854.53 L339.32,853.05 L340.75,851.60 L342.21,850.18 L343.69,848.82 L345.20,847.50 L346.73,846.23 L348.29,845.01 L349.88,843.86 L351.48,842.77 L353.12,841.75 L354.77,840.80 L356.45,839.93 L358.15,839.14 L359.87,838.43 L361.62,837.81 L363.39,837.28 L365.18,836.85 L366.99,836.51 L368.82,836.28 L370.67,836.16 L372.53,836.14 L374.41,836.22 L376.29,836.40 L378.18,836.67 L380.07,837.03 L381.95,837.48 L383.82,838.01 L385.68,838.62 L387.52,839.31 L389.34,840.08 L391.14,840.92 L392.91,841.83 L394.64,842.80 L396.34,843.84 L398.00,844.93 L399.61,846.08 L401.17,847.29 L402.68,848.54 L404.14,849.84 L405.55,851.19 L406.92,852.58 L408.24,854.01 L409.53,855.47 L410.77,856.97 L411.98,858.50 L413.16,860.06 L414.31,861.65 L415.42,863.26 L416.52,864.89 L417.59,866.54 L418.64,868.21 L419.67,869.89 L420.68,871.58 L421.68,873.27 L422.67,874.97 L423.65,876.68 L424.62,878.39 L425.59,880.10 L426.54,881.82 L427.49,883.54 L428.42,885.26 L429.35,886.98 L430.28,888.71 L431.19,890.44 L432.10,892.17 L433.01,893.91 L433.90,895.65 L434.80,897.38 L435.68,899.13 L436.56,900.87 L437.44,902.62 L438.31,904.36 L439.18,906.11 L440.05,907.87 L440.91,909.62 L441.77,911.37 L442.62,913.13 L443.47,914.88 L444.33,916.64 L445.17,918.40 L446.02,920.16 L446.87,921.92 L447.71,923.68 L448.56,925.44 L449.40,927.21 L450.25,928.97 L451.09,930.73 L451.94,932.49 L452.78,934.26 L453.63,936.02 L454.48,937.78 L455.33,939.55 L456.18,941.31 L457.04,943.07 L457.90,944.83 L458.76,946.59 L459.63,948.35 L460.50,950.11 L461.37,951.87 L462.25,953.63 L463.13,955.38 L464.02,957.14 L464.91,958.89 L465.81,960.64 L466.72,962.39 L467.63,964.14 L468.55,965.89 L469.47,967.63 L470.40,969.37 L471.34,971.11 L472.29,972.85 L473.25,974.59 L474.21,976.32 L475.19,978.05 L476.17,979.78 L477.16,981.50 L478.16,983.23 L479.18,984.94 L480.20,986.66 L481.24,988.36 L482.30,990.05 L483.37,991.73 L484.46,993.38 L485.57,995.02 L486.71,996.63 L487.87,998.22 L489.06,999.77 L490.27,1001.29 L491.52,1002.78 L492.80,1004.23 L494.11,1005.64 L495.46,1007.00 L496.84,1008.31 L498.27,1009.58 L499.73,1010.79 L501.24,1011.94 L502.80,1013.04 L504.39,1014.08 L506.04,1015.05 L507.72,1015.98 L509.44,1016.85 L511.19,1017.67 L512.97,1018.46 L514.79,1019.20 L516.62,1019.91 L518.48,1020.59 L520.36,1021.24 L522.26,1021.86 L524.16,1022.46 L526.08,1023.05 L528.01,1023.62 L529.94,1024.18 L531.87,1024.74 L533.80,1025.29 L535.72,1025.85 L537.64,1026.41 L539.55,1026.98 L541.44,1027.56 L543.32,1028.16 L545.18,1028.78 L547.02,1029.42 L548.84,1030.08 L550.64,1030.78 L552.42,1031.51 L554.19,1032.27 L555.92,1033.08 L557.64,1033.93 L559.33,1034.83 L561.00,1035.77 L562.64,1036.77 L564.25,1037.82 L565.84,1038.93 L567.40,1040.07 L568.95,1041.26 L570.46,1042.49 L571.96,1043.76 L573.43,1045.05 L574.89,1046.37 L576.32,1047.72 L577.73,1049.09 L579.13,1050.47 L580.50,1051.87 L581.86,1053.29 L583.21,1054.73 L584.54,1056.18 L585.85,1057.64 L587.15,1059.11 L588.44,1060.60 L589.73,1062.09 L591.00,1063.60 L592.26,1065.11 L593.51,1066.63 L594.76,1068.16 L596.01,1069.69 L597.25,1071.22 L598.48,1072.76 L599.72,1074.30 L600.95,1075.84 L602.19,1077.38 L603.42,1078.92 L604.66,1080.46 L605.90,1082.00 L607.14,1083.53 L608.39,1085.05 L609.65,1086.57 L610.91,1088.09 L612.18,1089.59 L613.47,1091.09 L614.76,1092.57 L616.06,1094.05 L617.38,1095.51 L618.71,1096.95 L620.05,1098.38 L621.41,1099.80 L622.79,1101.19 L624.18,1102.56 L625.58,1103.91 L627.01,1105.24 L628.45,1106.54 L629.92,1107.81 L631.40,1109.05 L632.91,1110.26 L634.43,1111.44 L635.98,1112.58 L637.55,1113.69 L639.15,1114.76 L640.77,1115.80 L642.42,1116.79 L644.09,1117.73 L645.79,1118.64 L647.51,1119.49 L649.27,1120.31 L651.06,1121.07 L652.87,1121.78 L654.72,1122.43 L656.59,1123.04 L658.49,1123.60 L660.42,1124.10 L662.36,1124.56 L664.32,1124.98 L666.29,1125.35 L668.27,1125.68 L670.25,1125.97 L672.24,1126.22 L674.23,1126.44 L676.21,1126.62 L678.19,1126.76M678.00,1127.40H772.00" fill="none" stroke="#3247CE" stroke-width="1.5" stroke-linejoin="round"/>
<path d="M70.11,1124.42 L71.97,1124.49 L73.84,1124.56 L75.73,1124.63 L77.62,1124.70 L79.53,1124.76 L81.44,1124.81 L83.37,1124.86 L85.30,1124.91 L87.25,1124.94 L89.20,1124.97 L91.15,1124.99 L93.12,1125.00 L95.08,1125.01 L97.06,1125.00 L99.04,1124.98 L101.02,1124.95 L103.01,1124.91 L105.00,1124.85 L106.99,1124.78 L108.98,1124.70 L110.97,1124.60 L112.97,1124.49 L114.96,1124.36 L116.95,1124.22 L118.94,1124.06 L120.93,1123.88 L122.92,1123.68 L124.90,1123.46 L126.88,1123.22 L128.85,1122.96 L130.82,1122.68 L132.78,1122.38 L134.74,1122.06 L136.69,1121.71 L138.63,1121.34 L140.56,1120.94 L142.49,1120.52 L144.40,1120.08 L146.31,1119.60 L148.20,1119.11 L150.08,1118.58 L151.95,1118.02 L153.81,1117.44 L155.66,1116.83 L157.49,1116.18 L159.30,1115.51 L161.10,1114.80 L162.89,1114.06 L164.66,1113.29 L166.41,1112.49 L168.15,1111.65 L169.86,1110.78 L171.56,1109.87 L173.25,1108.94 L174.92,1107.97 L176.57,1106.98 L178.20,1105.95 L179.82,1104.90 L181.42,1103.81 L183.01,1102.70 L184.58,1101.57 L186.13,1100.40 L187.67,1099.22 L189.20,1098.00 L190.71,1096.77 L192.20,1095.51 L193.68,1094.23 L195.14,1092.92 L196.59,1091.60 L198.03,1090.25 L199.45,1088.89 L200.86,1087.50 L202.25,1086.10 L203.63,1084.68 L205.00,1083.24 L206.35,1081.79 L207.69,1080.32 L209.02,1078.84 L210.33,1077.34 L211.63,1075.83 L212.92,1074.31 L214.19,1072.78 L215.46,1071.23 L216.71,1069.68 L217.95,1068.11 L219.18,1066.54 L220.39,1064.95 L221.60,1063.36 L222.79,1061.76 L223.97,1060.16 L225.14,1058.55 L226.30,1056.94 L227.45,1055.32 L228.59,1053.70 L229.72,1052.07 L230.83,1050.44 L231.94,1048.81 L233.04,1047.17 L234.13,1045.53 L235.21,1043.88 L236.28,1042.24 L237.34,1040.59 L238.40,1038.93 L239.44,1037.27 L240.48,1035.61 L241.51,1033.95 L242.53,1032.28 L243.54,1030.61 L244.55,1028.94 L245.55,1027.27 L246.55,1025.59 L247.53,1023.91 L248.51,1022.23 L249.49,1020.54 L250.46,1018.85 L251.42,1017.16 L252.38,1015.47 L253.33,1013.78 L254.28,1012.08 L255.22,1010.38 L256.16,1008.68 L257.10,1006.98 L258.03,1005.28 L258.95,1003.57 L259.88,1001.86 L260.80,1000.15 L261.71,998.44 L262.63,996.73 L263.54,995.02 L264.45,993.30 L265.35,991.59 L266.26,989.87 L267.16,988.15 L268.06,986.43 L268.96,984.71 L269.86,982.99 L270.76,981.27 L271.66,979.54 L272.55,977.82 L273.45,976.10 L274.35,974.37 L275.25,972.65 L276.14,970.92 L277.04,969.20 L277.94,967.47 L278.84,965.74 L279.74,964.02 L280.65,962.29 L281.55,960.56 L282.46,958.84 L283.37,957.11 L284.28,955.39 L285.19,953.66 L286.11,951.94 L287.03,950.21 L287.96,948.49 L288.88,946.76 L289.82,945.04 L290.75,943.32 L291.69,941.60 L292.64,939.88 L293.59,938.16 L294.54,936.44 L295.50,934.73 L296.46,933.01 L297.43,931.30 L298.41,929.58 L299.39,927.87 L300.38,926.16 L301.38,924.45 L302.38,922.74 L303.39,921.04 L304.41,919.34 L305.43,917.63 L306.46,915.93 L307.50,914.24 L308.55,912.54 L309.60,910.85 L310.67,909.15 L311.74,907.47 L312.82,905.78 L313.92,904.09 L315.02,902.41 L316.13,900.73 L317.25,899.06 L318.38,897.38 L319.52,895.71 L320.67,894.04 L321.84,892.38 L323.01,890.72 L324.20,889.07 L325.40,887.44 L326.62,885.82 L327.85,884.22 L329.10,882.64 L330.37,881.09 L331.66,879.57 L332.97,878.08 L334.30,876.63 L335.66,875.21 L337.03,873.84 L338.44,872.51 L339.87,871.24 L341.32,870.01 L342.81,868.84 L344.32,867.73 L345.87,866.68 L347.44,865.70 L349.05,864.78 L350.69,863.94 L352.37,863.17 L354.08,862.48 L355.83,861.87 L357.61,861.34 L359.41,860.89 L361.24,860.52 L363.10,860.22 L364.97,860.01 L366.85,859.87 L368.75,859.81 L370.66,859.83 L372.57,859.93 L374.48,860.10 L376.39,860.35 L378.29,860.68 L380.18,861.08 L382.07,861.55 L383.94,862.07 L385.79,862.66 L387.63,863.31 L389.44,864.01 L391.23,864.75 L392.99,865.55 L394.73,866.38 L396.44,867.26 L398.13,868.19 L399.80,869.15 L401.44,870.15 L403.06,871.20 L404.66,872.27 L406.24,873.39 L407.80,874.54 L409.34,875.72 L410.86,876.94 L412.36,878.18 L413.84,879.46 L415.30,880.76 L416.75,882.09 L418.18,883.45 L419.60,884.83 L421.00,886.23 L422.39,887.65 L423.76,889.10 L425.12,890.56 L426.46,892.04 L427.80,893.54 L429.12,895.06 L430.43,896.59 L431.73,898.13 L433.02,899.68 L434.30,901.24 L435.57,902.81 L436.83,904.39 L438.08,905.98 L439.33,907.57 L440.57,909.17 L441.80,910.76 L443.03,912.36 L444.25,913.96 L445.47,915.56 L446.69,917.15 L447.90,918.74 L449.11,920.33 L450.31,921.91 L451.52,923.48 L452.72,925.05 L453.92,926.62 L455.12,928.17 L456.32,929.73 L457.52,931.27 L458.72,932.82 L459.92,934.35 L461.12,935.89 L462.32,937.41 L463.53,938.93 L464.74,940.45 L465.94,941.96 L467.16,943.46 L468.37,944.96 L469.59,946.45 L470.81,947.94 L472.04,949.43 L473.27,950.90 L474.51,952.37 L475.75,953.84 L477.00,955.30 L478.26,956.76 L479.52,958.21 L480.79,959.65 L482.06,961.09 L483.35,962.52 L484.64,963.95 L485.94,965.37 L487.25,966.79 L488.57,968.20 L489.90,969.60 L491.23,971.01 L492.58,972.40 L493.94,973.79 L495.31,975.17 L496.70,976.55 L498.09,977.92 L499.50,979.29 L500.91,980.65 L502.33,982.01 L503.77,983.36 L505.21,984.71 L506.66,986.06 L508.11,987.40 L509.57,988.74 L511.04,990.07 L512.51,991.40 L513.98,992.73 L515.46,994.06 L516.94,995.38 L518.43,996.70 L519.91,998.02 L521.39,999.34 L522.88,1000.66 L524.36,1001.98 L525.84,1003.29 L527.32,1004.61 L528.79,1005.92 L530.27,1007.24 L531.74,1008.55 L533.21,1009.86 L534.68,1011.18 L536.14,1012.49 L537.61,1013.80 L539.07,1015.11 L540.53,1016.43 L541.99,1017.74 L543.45,1019.05 L544.91,1020.36 L546.36,1021.67 L547.82,1022.98 L549.27,1024.29 L550.72,1025.60 L552.17,1026.91 L553.62,1028.22 L555.07,1029.53 L556.52,1030.84 L557.97,1032.15 L559.42,1033.46 L560.86,1034.77 L562.31,1036.08 L563.76,1037.39 L565.20,1038.70 L566.65,1040.01 L568.09,1041.32 L569.54,1042.63 L570.98,1043.94 L572.43,1045.25 L573.88,1046.56 L575.32,1047.87 L576.77,1049.18 L578.21,1050.49 L579.66,1051.80 L581.11,1053.12 L582.56,1054.43 L584.01,1055.74 L585.46,1057.05 L586.91,1058.37 L588.36,1059.68 L589.81,1060.99 L591.27,1062.31 L592.72,1063.62 L594.18,1064.94 L595.64,1066.26 L597.10,1067.57 L598.56,1068.89 L600.02,1070.21 L601.48,1071.53 L602.95,1072.85 L604.42,1074.16 L605.89,1075.48 L607.37,1076.79 L608.85,1078.09 L610.33,1079.39 L611.82,1080.69 L613.32,1081.98 L614.82,1083.25 L616.33,1084.52 L617.84,1085.78 L619.37,1087.03 L620.90,1088.26 L622.44,1089.48 L623.99,1090.69 L625.55,1091.87 L627.12,1093.05 L628.70,1094.20 L630.29,1095.34 L631.89,1096.45 L633.51,1097.55 L635.14,1098.62 L636.78,1099.67 L638.44,1100.70 L640.11,1101.70 L641.79,1102.67 L643.49,1103.62 L645.21,1104.54 L646.94,1105.43 L648.69,1106.29 L650.45,1107.13 L652.23,1107.93 L654.02,1108.71 L655.83,1109.46 L657.65,1110.18 L659.48,1110.88 L661.32,1111.56 L663.17,1112.21 L665.03,1112.84 L666.90,1113.44 L668.78,1114.03 L670.67,1114.59 L672.56,1115.13 L674.46,1115.65 L676.36,1116.16 L678.27,1116.64 L680.18,1117.11 L682.09,1117.56 L684.01,1117.99 L685.93,1118.41 L687.85,1118.81 L689.78,1119.19 L691.71,1119.56 L693.64,1119.92 L695.57,1120.26 L697.51,1120.58 L699.45,1120.90 L701.39,1121.20 L703.34,1121.48 L705.28,1121.76 L707.23,1122.02 L709.18,1122.28 L711.13,1122.52 L713.08,1122.75 L715.04,1122.97 L716.99,1123.18 L718.95,1123.38 L720.90,1123.58 L722.86,1123.76 L724.82,1123.94 L726.78,1124.11 L728.74,1124.27 L730.70,1124.43 L732.66,1124.58 L734.62,1124.72 L736.58,1124.86 L738.54,1124.99 L740.50,1125.12 L742.46,1125.25 L744.42,1125.37 L746.38,1125.49 L748.34,1125.61 L750.30,1125.72 L752.25,1125.83 L754.21,1125.94 L756.16,1126.05 L758.11,1126.16 L760.07,1126.27 L762.02,1126.37 L763.96,1126.48 L765.91,1126.59 L767.85,1126.71 L769.80,1126.82 L771.74,1126.94" fill="none" stroke="#AC46DE" stroke-width="1.5" stroke-linejoin="round"/>
<path d="M280.6,1079.1V1127.9" stroke="#222" stroke-width="1.4" stroke-dasharray="13 5.3"/>
<path d="M490.8,896.5V1127.9" stroke="#222" stroke-width="1.4" stroke-dasharray="13 5.3"/>
<path d="M195.59,1126.80 L197.69,1126.57 L199.77,1126.30 L201.84,1126.00 L203.88,1125.65 L205.91,1125.28 L207.91,1124.86 L209.90,1124.41 L211.86,1123.93 L213.81,1123.41 L215.73,1122.86 L217.64,1122.27 L219.53,1121.65 L221.40,1121.00 L223.25,1120.32 L225.08,1119.61 L226.89,1118.86 L228.68,1118.09 L230.46,1117.28 L232.21,1116.45 L233.95,1115.58 L235.67,1114.69 L237.37,1113.77 L239.05,1112.82 L240.71,1111.85 L242.36,1110.84 L243.99,1109.81 L245.60,1108.76 L247.19,1107.68 L248.77,1106.57 L250.32,1105.44 L251.86,1104.29 L253.38,1103.11 L254.89,1101.91 L256.38,1100.69 L257.85,1099.44 L259.30,1098.17 L260.74,1096.88 L262.16,1095.57 L263.56,1094.24 L264.95,1092.89 L266.32,1091.52 L267.67,1090.13 L269.01,1088.72 L270.33,1087.30 L271.63,1085.85 L272.92,1084.39 L274.20,1082.91 L275.45,1081.42 L276.69,1079.91 L277.92,1078.38 L279.13,1076.84 L280.32,1075.29 L281.50,1073.72 L282.66,1072.13 L283.81,1070.54 L284.94,1068.93 L286.06,1067.31 L287.16,1065.68 L288.25,1064.03 L289.33,1062.38 L290.38,1060.71 L291.43,1059.04 L292.46,1057.35 L293.47,1055.66 L294.47,1053.95 L295.46,1052.24 L296.43,1050.53 L297.39,1048.80 L298.33,1047.07 L299.26,1045.33 L300.18,1043.58 L301.08,1041.83 L301.97,1040.08 L302.85,1038.32 L303.71,1036.55 L304.56,1034.78 L305.40,1033.01 L306.22,1031.23 L307.04,1029.44 L307.84,1027.66 L308.63,1025.86 L309.41,1024.06 L310.18,1022.26 L310.94,1020.46 L311.69,1018.65 L312.43,1016.83 L313.16,1015.02 L313.88,1013.19 L314.59,1011.37 L315.29,1009.54 L315.99,1007.71 L316.67,1005.88 L317.35,1004.04 L318.02,1002.20 L318.68,1000.35 L319.33,998.51 L319.98,996.66 L320.62,994.80 L321.26,992.95 L321.89,991.09 L322.51,989.23 L323.13,987.37 L323.74,985.51 L324.34,983.64 L324.95,981.78 L325.54,979.91 L326.14,978.04 L326.72,976.16 L327.31,974.29 L327.89,972.41 L328.47,970.54 L329.05,968.66 L329.62,966.78 L330.19,964.90 L330.76,963.02 L331.32,961.14 L331.89,959.26 L332.45,957.37 L333.02,955.49 L333.58,953.61 L334.14,951.73 L334.70,949.84 L335.26,947.96 L335.82,946.07 L336.38,944.19 L336.94,942.31 L337.50,940.42 L338.06,938.54 L338.62,936.65 L339.18,934.77 L339.74,932.88 L340.30,931.00 L340.85,929.12 L341.41,927.23 L341.97,925.35 L342.53,923.46 L343.08,921.58 L343.64,919.69 L344.20,917.81 L344.75,915.92 L345.31,914.04 L345.87,912.15 L346.42,910.27 L346.98,908.38 L347.54,906.50 L348.09,904.62 L348.65,902.73 L349.20,900.85 L349.76,898.96 L350.32,897.08 L350.87,895.20 L351.43,893.31 L351.99,891.43 L352.54,889.55 L353.10,887.66 L353.66,885.78 L354.21,883.90 L354.77,882.01 L355.33,880.13 L355.89,878.25 L356.44,876.37 L357.00,874.49 L357.56,872.61 L358.12,870.72 L358.68,868.84 L359.24,866.96 L359.80,865.08 L360.36,863.20 L360.92,861.32 L361.48,859.45 L362.04,857.57 L362.60,855.69 L363.16,853.81 L363.72,851.93 L364.28,850.06 L364.85,848.18 L365.41,846.30 L365.97,844.43 L366.54,842.55 L367.10,840.68 L367.67,838.80 L368.23,836.93 L368.80,835.05 L369.36,833.18 L369.93,831.31 L370.50,829.43 L371.07,827.56 L371.64,825.69 L372.21,823.82 L372.78,821.95 L373.36,820.08 L373.94,818.21 L374.52,816.34 L375.10,814.47 L375.68,812.61 L376.27,810.74 L376.86,808.87 L377.46,807.01 L378.05,805.14 L378.65,803.27 L379.26,801.41 L379.87,799.55 L380.48,797.68 L381.10,795.82 L381.72,793.96 L382.35,792.09 L382.98,790.23 L383.62,788.37 L384.26,786.51 L384.91,784.65 L385.57,782.79 L386.23,780.93 L386.89,779.08 L387.57,777.22 L388.25,775.36 L388.93,773.50 L389.63,771.65 L390.33,769.79 L391.05,767.94 L391.77,766.10 L392.51,764.26 L393.26,762.43 L394.03,760.60 L394.82,758.79 L395.63,756.98 L396.45,755.19 L397.30,753.41 L398.18,751.65 L399.07,749.90 L400.00,748.16 L400.95,746.45 L401.93,744.75 L402.94,743.07 L403.98,741.42 L405.05,739.79 L406.16,738.18 L407.31,736.60 L408.50,735.04 L409.72,733.51 L410.98,732.01 L412.29,730.54 L413.64,729.10 L415.04,727.69 L416.48,726.32 L417.96,725.06 L419.47,724.07 L421.00,723.56 L422.53,723.67 L424.05,724.36 L425.55,725.49 L427.02,726.91 L428.45,728.45 L429.82,730.02 L431.15,731.61 L432.43,733.22 L433.67,734.85 L434.86,736.49 L436.01,738.15 L437.12,739.83 L438.19,741.53 L439.23,743.23 L440.24,744.95 L441.21,746.69 L442.15,748.43 L443.06,750.19 L443.95,751.95 L444.81,753.73 L445.65,755.51 L446.47,757.31 L447.27,759.10 L448.05,760.91 L448.82,762.72 L449.57,764.54 L450.32,766.36 L451.05,768.18 L451.77,770.00 L452.49,771.83 L453.20,773.66 L453.89,775.49 L454.59,777.33 L455.27,779.16 L455.95,781.00 L456.62,782.84 L457.28,784.68 L457.93,786.53 L458.58,788.38 L459.23,790.23 L459.86,792.08 L460.49,793.93 L461.12,795.79 L461.74,797.64 L462.35,799.50 L462.96,801.36 L463.57,803.22 L464.17,805.09 L464.76,806.95 L465.35,808.82 L465.94,810.68 L466.52,812.55 L467.10,814.42 L467.68,816.29 L468.25,818.17 L468.82,820.04 L469.38,821.92 L469.95,823.79 L470.51,825.67 L471.07,827.55 L471.63,829.43 L472.18,831.30 L472.73,833.19 L473.29,835.07 L473.84,836.95 L474.39,838.83 L474.94,840.71 L475.49,842.60 L476.04,844.48 L476.58,846.36 L477.13,848.25 L477.68,850.13 L478.23,852.02 L478.78,853.90 L479.33,855.79 L479.88,857.67 L480.44,859.56 L480.99,861.45 L481.54,863.33 L482.10,865.22 L482.65,867.10 L483.21,868.99 L483.77,870.88 L484.32,872.76 L484.88,874.65 L485.44,876.53 L486.00,878.42 L486.56,880.31 L487.11,882.19 L487.67,884.08 L488.23,885.97 L488.79,887.85 L489.36,889.74 L489.92,891.62 L490.48,893.51 L491.04,895.40 L491.60,897.28 L492.16,899.17 L492.72,901.05 L493.28,902.94 L493.84,904.82 L494.41,906.71 L494.97,908.60 L495.53,910.48 L496.09,912.37 L496.65,914.25 L497.21,916.13 L497.77,918.02 L498.33,919.90 L498.89,921.79 L499.45,923.67 L500.00,925.55 L500.56,927.44 L501.12,929.32 L501.68,931.20 L502.23,933.09 L502.79,934.97 L503.34,936.85 L503.90,938.73 L504.45,940.61 L505.00,942.49 L505.56,944.38 L506.11,946.26 L506.66,948.13 L507.22,950.01 L507.77,951.89 L508.33,953.77 L508.88,955.65 L509.44,957.52 L510.00,959.40 L510.57,961.27 L511.13,963.14 L511.70,965.02 L512.27,966.89 L512.84,968.76 L513.42,970.63 L514.00,972.49 L514.58,974.36 L515.17,976.22 L515.76,978.09 L516.36,979.95 L516.96,981.81 L517.57,983.67 L518.18,985.52 L518.80,987.38 L519.42,989.23 L520.05,991.08 L520.69,992.93 L521.33,994.78 L521.98,996.63 L522.63,998.47 L523.30,1000.31 L523.97,1002.15 L524.64,1003.99 L525.33,1005.82 L526.03,1007.65 L526.73,1009.48 L527.44,1011.31 L528.16,1013.14 L528.89,1014.96 L529.63,1016.78 L530.38,1018.60 L531.14,1020.41 L531.91,1022.22 L532.69,1024.03 L533.48,1025.83 L534.28,1027.64 L535.10,1029.44 L535.92,1031.23 L536.76,1033.03 L537.61,1034.82 L538.47,1036.60 L539.34,1038.38 L540.22,1040.16 L541.12,1041.93 L542.03,1043.70 L542.96,1045.46 L543.89,1047.22 L544.84,1048.96 L545.80,1050.70 L546.78,1052.44 L547.77,1054.16 L548.77,1055.88 L549.78,1057.58 L550.81,1059.28 L551.86,1060.97 L552.91,1062.65 L553.98,1064.31 L555.07,1065.96 L556.17,1067.61 L557.28,1069.24 L558.41,1070.86 L559.56,1072.46 L560.71,1074.05 L561.89,1075.63 L563.08,1077.19 L564.28,1078.74 L565.50,1080.27 L566.73,1081.78 L567.98,1083.28 L569.25,1084.77 L570.53,1086.23 L571.83,1087.68 L573.14,1089.11 L574.47,1090.52 L575.82,1091.91 L577.18,1093.28 L578.56,1094.64 L579.96,1095.97 L581.37,1097.28 L582.80,1098.57 L584.25,1099.84 L585.72,1101.08 L587.20,1102.31 L588.70,1103.51 L590.22,1104.69 L591.75,1105.84 L593.30,1106.97 L594.87,1108.07 L596.46,1109.15 L598.07,1110.20 L599.70,1111.23 L601.34,1112.23 L603.00,1113.20 L604.68,1114.14 L606.38,1115.06 L608.10,1115.95 L609.84,1116.81 L611.60,1117.64 L613.38,1118.44 L615.17,1119.21 L616.99,1119.95 L618.83,1120.65 L620.68,1121.33 L622.56,1121.97 L624.45,1122.58 L626.37,1123.16 L628.31,1123.71 L630.26,1124.22 L632.24,1124.69 L634.24,1125.14 L636.26,1125.54 L638.30,1125.91 L640.36,1126.25 L642.44,1126.55 L644.55,1126.81 L646.67,1127.03" fill="none" stroke="#262626" stroke-width="1.15" stroke-dasharray="15.5 5.6"/>
</svg>
</body></html>
